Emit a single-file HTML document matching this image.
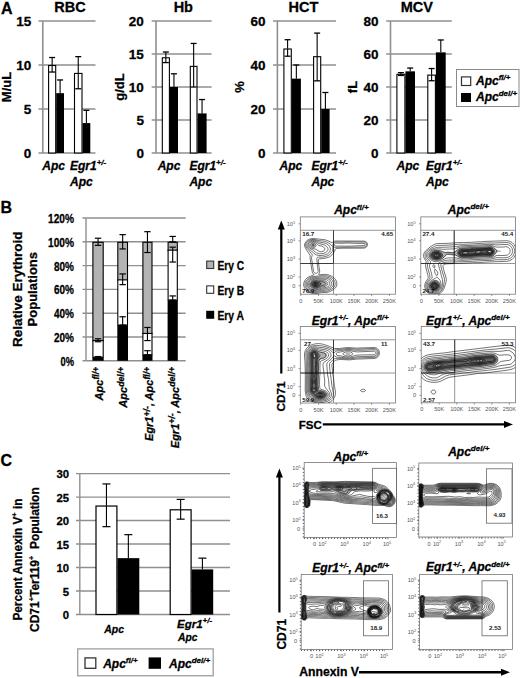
<!DOCTYPE html>
<html><head><meta charset="utf-8"><style>
html,body{margin:0;padding:0;background:#fff;}
body{width:520px;height:678px;overflow:hidden;}
svg{display:block;font-family:"Liberation Sans",sans-serif;}
text[font-weight="bold"]{stroke:#000;stroke-width:0.28px;stroke-linejoin:round;}
</style></head><body>
<svg width="520" height="678" viewBox="0 0 520 678">
<rect x="0" y="0" width="520" height="678" fill="#fff"/>
<text x="1" y="13.6" font-size="16" font-weight="bold">A</text>
<line x1="38.5" y1="153" x2="95.5" y2="153" stroke="#8f8f8f" stroke-width="1.6" />
<text x="31.3" y="158" font-size="13.5" font-weight="bold" font-style="normal" text-anchor="end" fill="#000" >0</text>
<line x1="38.5" y1="109" x2="95.5" y2="109" stroke="#8f8f8f" stroke-width="1.6" />
<text x="31.3" y="114" font-size="13.5" font-weight="bold" font-style="normal" text-anchor="end" fill="#000" >5</text>
<line x1="38.5" y1="65" x2="95.5" y2="65" stroke="#8f8f8f" stroke-width="1.6" />
<text x="31.3" y="70" font-size="13.5" font-weight="bold" font-style="normal" text-anchor="end" fill="#000" >10</text>
<line x1="38.5" y1="21" x2="95.5" y2="21" stroke="#8f8f8f" stroke-width="1.6" />
<text x="31.3" y="26" font-size="13.5" font-weight="bold" font-style="normal" text-anchor="end" fill="#000" >15</text>
<line x1="42.8" y1="21" x2="42.8" y2="153" stroke="#8f8f8f" stroke-width="1.6" />
<text x="69.9" y="12.2" font-size="14.5" font-weight="bold" font-style="normal" text-anchor="middle" fill="#000" >RBC</text>
<text transform="translate(11,87) rotate(-90)" x="0" y="0" font-size="13" font-weight="bold" text-anchor="middle">M/uL</text>
<rect x="48.6" y="65.5" width="7.1" height="87.5" fill="#fff" stroke="#000" stroke-width="1.1" />
<line x1="52.15" y1="57.52" x2="52.15" y2="65" stroke="#000" stroke-width="1.1" />
<line x1="49.15" y1="57.52" x2="55.15" y2="57.52" stroke="#000" stroke-width="1.3" />
<line x1="52.15" y1="65" x2="52.15" y2="72.04" stroke="#000" stroke-width="1.1" />
<line x1="49.15" y1="72.04" x2="55.15" y2="72.04" stroke="#000" stroke-width="1.3" />
<rect x="56.2" y="93.16" width="7.8" height="59.84" fill="#000" />
<line x1="60.1" y1="79.96" x2="60.1" y2="93.16" stroke="#000" stroke-width="1.1" />
<line x1="57.1" y1="79.96" x2="63.1" y2="79.96" stroke="#000" stroke-width="1.3" />
<rect x="74.5" y="73.42" width="7.5" height="79.58" fill="#fff" stroke="#000" stroke-width="1.1" />
<line x1="78.25" y1="56.64" x2="78.25" y2="72.92" stroke="#000" stroke-width="1.1" />
<line x1="75.25" y1="56.64" x2="81.25" y2="56.64" stroke="#000" stroke-width="1.3" />
<line x1="78.25" y1="72.92" x2="78.25" y2="88.76" stroke="#000" stroke-width="1.1" />
<line x1="75.25" y1="88.76" x2="81.25" y2="88.76" stroke="#000" stroke-width="1.3" />
<rect x="82.5" y="123.08" width="7.8" height="29.92" fill="#000" />
<line x1="86.4" y1="110.32" x2="86.4" y2="123.08" stroke="#000" stroke-width="1.1" />
<line x1="83.4" y1="110.32" x2="89.4" y2="110.32" stroke="#000" stroke-width="1.3" />
<text x="42.3" y="170" font-size="12" font-weight="bold" font-style="italic" text-anchor="start" fill="#000" >Apc</text>
<text x="70" y="170" font-size="12" font-weight="bold" font-style="italic">Egr1<tspan font-size="8" dy="-5.5">+/-</tspan></text>
<text x="70" y="185.6" font-size="12" font-weight="bold" font-style="italic" text-anchor="start" fill="#000" >Apc</text>
<line x1="151.7" y1="153" x2="211.6" y2="153" stroke="#8f8f8f" stroke-width="1.6" />
<text x="143.9" y="158" font-size="13.5" font-weight="bold" font-style="normal" text-anchor="end" fill="#000" >0</text>
<line x1="151.7" y1="120" x2="211.6" y2="120" stroke="#8f8f8f" stroke-width="1.6" />
<text x="143.9" y="125" font-size="13.5" font-weight="bold" font-style="normal" text-anchor="end" fill="#000" >5</text>
<line x1="151.7" y1="87" x2="211.6" y2="87" stroke="#8f8f8f" stroke-width="1.6" />
<text x="143.9" y="92" font-size="13.5" font-weight="bold" font-style="normal" text-anchor="end" fill="#000" >10</text>
<line x1="151.7" y1="54" x2="211.6" y2="54" stroke="#8f8f8f" stroke-width="1.6" />
<text x="143.9" y="59" font-size="13.5" font-weight="bold" font-style="normal" text-anchor="end" fill="#000" >15</text>
<line x1="151.7" y1="21" x2="211.6" y2="21" stroke="#8f8f8f" stroke-width="1.6" />
<text x="143.9" y="26" font-size="13.5" font-weight="bold" font-style="normal" text-anchor="end" fill="#000" >20</text>
<line x1="156" y1="21" x2="156" y2="153" stroke="#8f8f8f" stroke-width="1.6" />
<text x="183.3" y="12.2" font-size="14.5" font-weight="bold" font-style="normal" text-anchor="middle" fill="#000" >Hb</text>
<text transform="translate(123.5,87) rotate(-90)" x="0" y="0" font-size="13" font-weight="bold" text-anchor="middle">g/dL</text>
<rect x="162.3" y="57.8" width="7.1" height="95.2" fill="#fff" stroke="#000" stroke-width="1.1" />
<line x1="165.85" y1="52.02" x2="165.85" y2="57.3" stroke="#000" stroke-width="1.1" />
<line x1="162.85" y1="52.02" x2="168.85" y2="52.02" stroke="#000" stroke-width="1.3" />
<line x1="165.85" y1="57.3" x2="165.85" y2="62.58" stroke="#000" stroke-width="1.1" />
<line x1="162.85" y1="62.58" x2="168.85" y2="62.58" stroke="#000" stroke-width="1.3" />
<rect x="169.9" y="87" width="8.1" height="66" fill="#000" />
<line x1="173.95" y1="73.8" x2="173.95" y2="87" stroke="#000" stroke-width="1.1" />
<line x1="170.95" y1="73.8" x2="176.95" y2="73.8" stroke="#000" stroke-width="1.3" />
<rect x="190.3" y="66.38" width="6.7" height="86.62" fill="#fff" stroke="#000" stroke-width="1.1" />
<line x1="193.65" y1="43.44" x2="193.65" y2="65.88" stroke="#000" stroke-width="1.1" />
<line x1="190.65" y1="43.44" x2="196.65" y2="43.44" stroke="#000" stroke-width="1.3" />
<line x1="193.65" y1="65.88" x2="193.65" y2="87" stroke="#000" stroke-width="1.1" />
<line x1="190.65" y1="87" x2="196.65" y2="87" stroke="#000" stroke-width="1.3" />
<rect x="197.5" y="113.4" width="9.1" height="39.6" fill="#000" />
<line x1="202.05" y1="99.54" x2="202.05" y2="113.4" stroke="#000" stroke-width="1.1" />
<line x1="199.05" y1="99.54" x2="205.05" y2="99.54" stroke="#000" stroke-width="1.3" />
<text x="157.7" y="170" font-size="12" font-weight="bold" font-style="italic" text-anchor="start" fill="#000" >Apc</text>
<text x="189.4" y="170" font-size="12" font-weight="bold" font-style="italic">Egr1<tspan font-size="8" dy="-5.5">+/-</tspan></text>
<text x="189.4" y="185.6" font-size="12" font-weight="bold" font-style="italic" text-anchor="start" fill="#000" >Apc</text>
<line x1="273" y1="153" x2="336" y2="153" stroke="#8f8f8f" stroke-width="1.6" />
<text x="265.6" y="158" font-size="13.5" font-weight="bold" font-style="normal" text-anchor="end" fill="#000" >0</text>
<line x1="273" y1="109" x2="336" y2="109" stroke="#8f8f8f" stroke-width="1.6" />
<text x="265.6" y="114" font-size="13.5" font-weight="bold" font-style="normal" text-anchor="end" fill="#000" >20</text>
<line x1="273" y1="65" x2="336" y2="65" stroke="#8f8f8f" stroke-width="1.6" />
<text x="265.6" y="70" font-size="13.5" font-weight="bold" font-style="normal" text-anchor="end" fill="#000" >40</text>
<line x1="273" y1="21" x2="336" y2="21" stroke="#8f8f8f" stroke-width="1.6" />
<text x="265.6" y="26" font-size="13.5" font-weight="bold" font-style="normal" text-anchor="end" fill="#000" >60</text>
<line x1="277.4" y1="21" x2="277.4" y2="153" stroke="#8f8f8f" stroke-width="1.6" />
<text x="303.5" y="12.2" font-size="14.5" font-weight="bold" font-style="normal" text-anchor="middle" fill="#000" >HCT</text>
<text transform="translate(243.5,87) rotate(-90)" x="0" y="0" font-size="13" font-weight="bold" text-anchor="middle">%</text>
<rect x="283.9" y="49" width="7.4" height="104" fill="#fff" stroke="#000" stroke-width="1.1" />
<line x1="287.6" y1="39.7" x2="287.6" y2="48.5" stroke="#000" stroke-width="1.1" />
<line x1="284.6" y1="39.7" x2="290.6" y2="39.7" stroke="#000" stroke-width="1.3" />
<line x1="287.6" y1="48.5" x2="287.6" y2="56.2" stroke="#000" stroke-width="1.1" />
<line x1="284.6" y1="56.2" x2="290.6" y2="56.2" stroke="#000" stroke-width="1.3" />
<rect x="291.8" y="78.64" width="9.1" height="74.36" fill="#000" />
<line x1="296.35" y1="65" x2="296.35" y2="78.64" stroke="#000" stroke-width="1.1" />
<line x1="293.35" y1="65" x2="299.35" y2="65" stroke="#000" stroke-width="1.3" />
<rect x="313.6" y="56.7" width="7.1" height="96.3" fill="#fff" stroke="#000" stroke-width="1.1" />
<line x1="317.15" y1="33.1" x2="317.15" y2="56.2" stroke="#000" stroke-width="1.1" />
<line x1="314.15" y1="33.1" x2="320.15" y2="33.1" stroke="#000" stroke-width="1.3" />
<line x1="317.15" y1="56.2" x2="317.15" y2="80.84" stroke="#000" stroke-width="1.1" />
<line x1="314.15" y1="80.84" x2="320.15" y2="80.84" stroke="#000" stroke-width="1.3" />
<rect x="321.2" y="109" width="8.4" height="44" fill="#000" />
<line x1="325.4" y1="92.5" x2="325.4" y2="109" stroke="#000" stroke-width="1.1" />
<line x1="322.4" y1="92.5" x2="328.4" y2="92.5" stroke="#000" stroke-width="1.3" />
<text x="279.6" y="170" font-size="12" font-weight="bold" font-style="italic" text-anchor="start" fill="#000" >Apc</text>
<text x="311.5" y="170" font-size="12" font-weight="bold" font-style="italic">Egr1<tspan font-size="8" dy="-5.5">+/-</tspan></text>
<text x="311.5" y="185.6" font-size="12" font-weight="bold" font-style="italic" text-anchor="start" fill="#000" >Apc</text>
<line x1="386.2" y1="153" x2="451.8" y2="153" stroke="#8f8f8f" stroke-width="1.6" />
<text x="378.6" y="158" font-size="13.5" font-weight="bold" font-style="normal" text-anchor="end" fill="#000" >0</text>
<line x1="386.2" y1="120" x2="451.8" y2="120" stroke="#8f8f8f" stroke-width="1.6" />
<text x="378.6" y="125" font-size="13.5" font-weight="bold" font-style="normal" text-anchor="end" fill="#000" >20</text>
<line x1="386.2" y1="87" x2="451.8" y2="87" stroke="#8f8f8f" stroke-width="1.6" />
<text x="378.6" y="92" font-size="13.5" font-weight="bold" font-style="normal" text-anchor="end" fill="#000" >40</text>
<line x1="386.2" y1="54" x2="451.8" y2="54" stroke="#8f8f8f" stroke-width="1.6" />
<text x="378.6" y="59" font-size="13.5" font-weight="bold" font-style="normal" text-anchor="end" fill="#000" >60</text>
<line x1="386.2" y1="21" x2="451.8" y2="21" stroke="#8f8f8f" stroke-width="1.6" />
<text x="378.6" y="26" font-size="13.5" font-weight="bold" font-style="normal" text-anchor="end" fill="#000" >80</text>
<line x1="390.5" y1="21" x2="390.5" y2="153" stroke="#8f8f8f" stroke-width="1.6" />
<text x="416.9" y="12.2" font-size="14.5" font-weight="bold" font-style="normal" text-anchor="middle" fill="#000" >MCV</text>
<text transform="translate(357,87) rotate(-90)" x="0" y="0" font-size="13" font-weight="bold" text-anchor="middle">fL</text>
<rect x="396.9" y="74.3" width="8" height="78.7" fill="#fff" stroke="#000" stroke-width="1.1" />
<line x1="400.9" y1="72.64" x2="400.9" y2="73.8" stroke="#000" stroke-width="1.1" />
<line x1="397.9" y1="72.64" x2="403.9" y2="72.64" stroke="#000" stroke-width="1.3" />
<line x1="400.9" y1="73.8" x2="400.9" y2="75.45" stroke="#000" stroke-width="1.1" />
<line x1="397.9" y1="75.45" x2="403.9" y2="75.45" stroke="#000" stroke-width="1.3" />
<rect x="405.4" y="71.33" width="9.6" height="81.67" fill="#000" />
<line x1="410.2" y1="68.03" x2="410.2" y2="71.33" stroke="#000" stroke-width="1.1" />
<line x1="407.2" y1="68.03" x2="413.2" y2="68.03" stroke="#000" stroke-width="1.3" />
<rect x="427.8" y="75.12" width="7.6" height="77.88" fill="#fff" stroke="#000" stroke-width="1.1" />
<line x1="431.6" y1="68.52" x2="431.6" y2="74.62" stroke="#000" stroke-width="1.1" />
<line x1="428.6" y1="68.52" x2="434.6" y2="68.52" stroke="#000" stroke-width="1.3" />
<line x1="431.6" y1="74.62" x2="431.6" y2="80.73" stroke="#000" stroke-width="1.1" />
<line x1="428.6" y1="80.73" x2="434.6" y2="80.73" stroke="#000" stroke-width="1.3" />
<rect x="435.9" y="52.35" width="9.8" height="100.65" fill="#000" />
<line x1="440.8" y1="39.98" x2="440.8" y2="52.35" stroke="#000" stroke-width="1.1" />
<line x1="437.8" y1="39.98" x2="443.8" y2="39.98" stroke="#000" stroke-width="1.3" />
<text x="396.5" y="170" font-size="12" font-weight="bold" font-style="italic" text-anchor="start" fill="#000" >Apc</text>
<text x="426" y="170" font-size="12" font-weight="bold" font-style="italic">Egr1<tspan font-size="8" dy="-5.5">+/-</tspan></text>
<text x="426" y="185.6" font-size="12" font-weight="bold" font-style="italic" text-anchor="start" fill="#000" >Apc</text>
<rect x="456.5" y="69.5" width="62.5" height="37" fill="#fff" stroke="#8a8a8a" stroke-width="1" />
<rect x="461.5" y="76.9" width="9.2" height="8.6" fill="#fff" stroke="#333" stroke-width="1.2" />
<rect x="461" y="93" width="10" height="9" fill="#000" />
<text x="476" y="85" font-size="12" font-weight="bold" font-style="italic">Apc<tspan font-size="8" dy="-5">fl/+</tspan></text>
<text x="476" y="100.6" font-size="12" font-weight="bold" font-style="italic">Apc<tspan font-size="8" dy="-5">del/+</tspan></text>
<text x="0.5" y="213.2" font-size="16" font-weight="bold">B</text>
<line x1="82.5" y1="360.8" x2="185.7" y2="360.8" stroke="#8f8f8f" stroke-width="1.4" />
<text x="74" y="365.7" font-size="12.2" font-weight="bold" font-style="normal" text-anchor="end" fill="#000" textLength="13.5" lengthAdjust="spacingAndGlyphs" >0%</text>
<line x1="82.5" y1="337" x2="185.7" y2="337" stroke="#8f8f8f" stroke-width="1.4" />
<text x="74" y="341.9" font-size="12.2" font-weight="bold" font-style="normal" text-anchor="end" fill="#000" textLength="20" lengthAdjust="spacingAndGlyphs" >20%</text>
<line x1="82.5" y1="313.2" x2="185.7" y2="313.2" stroke="#8f8f8f" stroke-width="1.4" />
<text x="74" y="318.1" font-size="12.2" font-weight="bold" font-style="normal" text-anchor="end" fill="#000" textLength="20" lengthAdjust="spacingAndGlyphs" >40%</text>
<line x1="82.5" y1="289.4" x2="185.7" y2="289.4" stroke="#8f8f8f" stroke-width="1.4" />
<text x="74" y="294.3" font-size="12.2" font-weight="bold" font-style="normal" text-anchor="end" fill="#000" textLength="20" lengthAdjust="spacingAndGlyphs" >60%</text>
<line x1="82.5" y1="265.6" x2="185.7" y2="265.6" stroke="#8f8f8f" stroke-width="1.4" />
<text x="74" y="270.5" font-size="12.2" font-weight="bold" font-style="normal" text-anchor="end" fill="#000" textLength="20" lengthAdjust="spacingAndGlyphs" >80%</text>
<line x1="82.5" y1="241.8" x2="185.7" y2="241.8" stroke="#8f8f8f" stroke-width="1.4" />
<text x="74" y="246.7" font-size="12.2" font-weight="bold" font-style="normal" text-anchor="end" fill="#000" textLength="26" lengthAdjust="spacingAndGlyphs" >100%</text>
<line x1="82.5" y1="218" x2="185.7" y2="218" stroke="#8f8f8f" stroke-width="1.4" />
<text x="74" y="222.9" font-size="12.2" font-weight="bold" font-style="normal" text-anchor="end" fill="#000" textLength="26" lengthAdjust="spacingAndGlyphs" >120%</text>
<line x1="86" y1="218" x2="86" y2="360.8" stroke="#8f8f8f" stroke-width="1.4" />
<rect x="92.9" y="242.3" width="10.3" height="98.77" fill="#b3b3b3" stroke="#000" stroke-width="1.1" />
<rect x="92.9" y="340.57" width="10.3" height="16.66" fill="#fff" stroke="#000" stroke-width="1.1" />
<rect x="92.4" y="357.23" width="11.3" height="3.57" fill="#000" />
<line x1="98.05" y1="238.23" x2="98.05" y2="245.37" stroke="#000" stroke-width="1.1" />
<line x1="94.85" y1="238.23" x2="101.25" y2="238.23" stroke="#000" stroke-width="1.2" />
<line x1="94.85" y1="245.37" x2="101.25" y2="245.37" stroke="#000" stroke-width="1.2" />
<line x1="98.05" y1="338.79" x2="98.05" y2="341.76" stroke="#000" stroke-width="1.1" />
<line x1="94.85" y1="338.79" x2="101.25" y2="338.79" stroke="#000" stroke-width="1.2" />
<line x1="94.85" y1="341.76" x2="101.25" y2="341.76" stroke="#000" stroke-width="1.2" />
<line x1="98.05" y1="356.52" x2="98.05" y2="357.94" stroke="#000" stroke-width="1.1" />
<line x1="94.85" y1="356.52" x2="101.25" y2="356.52" stroke="#000" stroke-width="1.2" />
<line x1="94.85" y1="357.94" x2="101.25" y2="357.94" stroke="#000" stroke-width="1.2" />
<rect x="117.8" y="242.3" width="9.7" height="38.08" fill="#b3b3b3" stroke="#000" stroke-width="1.1" />
<rect x="117.8" y="279.88" width="9.7" height="45.22" fill="#fff" stroke="#000" stroke-width="1.1" />
<rect x="117.3" y="325.1" width="10.7" height="35.7" fill="#000" />
<line x1="122.65" y1="234.66" x2="122.65" y2="248.94" stroke="#000" stroke-width="1.1" />
<line x1="119.45" y1="234.66" x2="125.85" y2="234.66" stroke="#000" stroke-width="1.2" />
<line x1="119.45" y1="248.94" x2="125.85" y2="248.94" stroke="#000" stroke-width="1.2" />
<line x1="122.65" y1="273.93" x2="122.65" y2="284.64" stroke="#000" stroke-width="1.1" />
<line x1="119.45" y1="273.93" x2="125.85" y2="273.93" stroke="#000" stroke-width="1.2" />
<line x1="119.45" y1="284.64" x2="125.85" y2="284.64" stroke="#000" stroke-width="1.2" />
<line x1="122.65" y1="316.77" x2="122.65" y2="325.1" stroke="#000" stroke-width="1.1" />
<line x1="119.45" y1="316.77" x2="125.85" y2="316.77" stroke="#000" stroke-width="1.2" />
<line x1="119.45" y1="325.1" x2="125.85" y2="325.1" stroke="#000" stroke-width="1.2" />
<rect x="142.9" y="242.3" width="9.1" height="91.63" fill="#b3b3b3" stroke="#000" stroke-width="1.1" />
<rect x="142.9" y="333.43" width="9.1" height="21.42" fill="#fff" stroke="#000" stroke-width="1.1" />
<rect x="142.4" y="354.85" width="10.1" height="5.95" fill="#000" />
<line x1="147.45" y1="231.69" x2="147.45" y2="252.51" stroke="#000" stroke-width="1.1" />
<line x1="144.25" y1="231.69" x2="150.65" y2="231.69" stroke="#000" stroke-width="1.2" />
<line x1="144.25" y1="252.51" x2="150.65" y2="252.51" stroke="#000" stroke-width="1.2" />
<line x1="147.45" y1="327.48" x2="147.45" y2="340.57" stroke="#000" stroke-width="1.1" />
<line x1="144.25" y1="327.48" x2="150.65" y2="327.48" stroke="#000" stroke-width="1.2" />
<line x1="144.25" y1="340.57" x2="150.65" y2="340.57" stroke="#000" stroke-width="1.2" />
<line x1="147.45" y1="350.69" x2="147.45" y2="354.85" stroke="#000" stroke-width="1.1" />
<line x1="144.25" y1="350.69" x2="150.65" y2="350.69" stroke="#000" stroke-width="1.2" />
<line x1="144.25" y1="354.85" x2="150.65" y2="354.85" stroke="#000" stroke-width="1.2" />
<rect x="168.1" y="242.3" width="9.2" height="8.33" fill="#b3b3b3" stroke="#000" stroke-width="1.1" />
<rect x="168.1" y="250.13" width="9.2" height="49.98" fill="#fff" stroke="#000" stroke-width="1.1" />
<rect x="167.6" y="300.11" width="10.2" height="60.69" fill="#000" />
<line x1="172.7" y1="236.44" x2="172.7" y2="241.8" stroke="#000" stroke-width="1.1" />
<line x1="169.5" y1="236.44" x2="175.9" y2="236.44" stroke="#000" stroke-width="1.2" />
<line x1="169.5" y1="241.8" x2="175.9" y2="241.8" stroke="#000" stroke-width="1.2" />
<line x1="172.7" y1="247.16" x2="172.7" y2="262.03" stroke="#000" stroke-width="1.1" />
<line x1="169.5" y1="247.16" x2="175.9" y2="247.16" stroke="#000" stroke-width="1.2" />
<line x1="169.5" y1="262.03" x2="175.9" y2="262.03" stroke="#000" stroke-width="1.2" />
<line x1="172.7" y1="295.94" x2="172.7" y2="300.11" stroke="#000" stroke-width="1.1" />
<line x1="169.5" y1="295.94" x2="175.9" y2="295.94" stroke="#000" stroke-width="1.2" />
<line x1="169.5" y1="300.11" x2="175.9" y2="300.11" stroke="#000" stroke-width="1.2" />
<rect x="206.7" y="261.1" width="7" height="7.4" fill="#b3b3b3" stroke="#333" stroke-width="1.1" />
<rect x="206.7" y="285.9" width="7" height="7.4" fill="#fff" stroke="#333" stroke-width="1.1" />
<rect x="206.2" y="310.8" width="8" height="8" fill="#000" />
<text x="217.4" y="269.5" font-size="12" font-weight="bold" font-style="normal" text-anchor="start" fill="#000" textLength="26.6" lengthAdjust="spacingAndGlyphs" >Ery C</text>
<text x="217.4" y="294.6" font-size="12" font-weight="bold" font-style="normal" text-anchor="start" fill="#000" textLength="26.6" lengthAdjust="spacingAndGlyphs" >Ery B</text>
<text x="217.4" y="319.7" font-size="12" font-weight="bold" font-style="normal" text-anchor="start" fill="#000" textLength="26.6" lengthAdjust="spacingAndGlyphs" >Ery A</text>
<text transform="translate(21.5,289.2) rotate(-90)" font-size="13" font-weight="bold" text-anchor="middle" textLength="115.6" lengthAdjust="spacingAndGlyphs">Relative Erythroid</text>
<text transform="translate(37.2,289.2) rotate(-90)" font-size="13" font-weight="bold" text-anchor="middle" textLength="74.4" lengthAdjust="spacingAndGlyphs">Populations</text>
<text transform="translate(103,366.8) rotate(-90)" font-size="11" font-weight="bold" font-style="italic" text-anchor="end">Apc<tspan font-size="8.7" dy="-3.6">fl/+</tspan></text>
<text transform="translate(127.3,366.8) rotate(-90)" font-size="11" font-weight="bold" font-style="italic" text-anchor="end">Apc<tspan font-size="8.7" dy="-3.6">del/+</tspan></text>
<text transform="translate(153.2,366.8) rotate(-90)" font-size="11" font-weight="bold" font-style="italic" text-anchor="end">Egr1<tspan font-size="8.7" dy="-3.6">+/-</tspan><tspan dy="3.6">, Apc</tspan><tspan font-size="8.7" dy="-3.6">fl/+</tspan></text>
<text transform="translate(179,366.8) rotate(-90)" font-size="11" font-weight="bold" font-style="italic" text-anchor="end">Egr1<tspan font-size="8.7" dy="-3.6">+/-</tspan><tspan dy="3.6">, Apc</tspan><tspan font-size="8.7" dy="-3.6">del/+</tspan></text>
<text x="0.5" y="466.3" font-size="16" font-weight="bold">C</text>
<line x1="76" y1="614.5" x2="230" y2="614.5" stroke="#8f8f8f" stroke-width="1.4" />
<text x="69" y="619" font-size="11.5" font-weight="bold" font-style="normal" text-anchor="end" fill="#000" textLength="6.3" lengthAdjust="spacingAndGlyphs" >0</text>
<line x1="76" y1="591.02" x2="230" y2="591.02" stroke="#8f8f8f" stroke-width="1.4" />
<text x="69" y="595.52" font-size="11.5" font-weight="bold" font-style="normal" text-anchor="end" fill="#000" textLength="6.3" lengthAdjust="spacingAndGlyphs" >5</text>
<line x1="76" y1="567.53" x2="230" y2="567.53" stroke="#8f8f8f" stroke-width="1.4" />
<text x="69" y="572.03" font-size="11.5" font-weight="bold" font-style="normal" text-anchor="end" fill="#000" textLength="12.6" lengthAdjust="spacingAndGlyphs" >10</text>
<line x1="76" y1="544.05" x2="230" y2="544.05" stroke="#8f8f8f" stroke-width="1.4" />
<text x="69" y="548.55" font-size="11.5" font-weight="bold" font-style="normal" text-anchor="end" fill="#000" textLength="12.6" lengthAdjust="spacingAndGlyphs" >15</text>
<line x1="76" y1="520.57" x2="230" y2="520.57" stroke="#8f8f8f" stroke-width="1.4" />
<text x="69" y="525.07" font-size="11.5" font-weight="bold" font-style="normal" text-anchor="end" fill="#000" textLength="12.6" lengthAdjust="spacingAndGlyphs" >20</text>
<line x1="76" y1="497.08" x2="230" y2="497.08" stroke="#8f8f8f" stroke-width="1.4" />
<text x="69" y="501.58" font-size="11.5" font-weight="bold" font-style="normal" text-anchor="end" fill="#000" textLength="12.6" lengthAdjust="spacingAndGlyphs" >25</text>
<line x1="76" y1="473.6" x2="230" y2="473.6" stroke="#8f8f8f" stroke-width="1.4" />
<text x="69" y="478.1" font-size="11.5" font-weight="bold" font-style="normal" text-anchor="end" fill="#000" textLength="12.6" lengthAdjust="spacingAndGlyphs" >30</text>
<line x1="79.8" y1="473.6" x2="79.8" y2="614.5" stroke="#8f8f8f" stroke-width="1.4" />
<rect x="96" y="506.04" width="20.9" height="108.46" fill="#fff" stroke="#000" stroke-width="1.2" />
<line x1="106.45" y1="483.93" x2="106.45" y2="505.54" stroke="#000" stroke-width="1.1" />
<line x1="102.45" y1="483.93" x2="110.45" y2="483.93" stroke="#000" stroke-width="1.2" />
<line x1="106.45" y1="505.54" x2="106.45" y2="526.67" stroke="#000" stroke-width="1.1" />
<line x1="102.45" y1="526.67" x2="110.45" y2="526.67" stroke="#000" stroke-width="1.2" />
<rect x="117.4" y="558.14" width="21.9" height="56.36" fill="#000" />
<line x1="128.35" y1="534.66" x2="128.35" y2="558.14" stroke="#000" stroke-width="1.1" />
<line x1="124.35" y1="534.66" x2="132.35" y2="534.66" stroke="#000" stroke-width="1.2" />
<rect x="170.2" y="509.79" width="20.9" height="104.71" fill="#fff" stroke="#000" stroke-width="1.2" />
<line x1="180.65" y1="499.43" x2="180.65" y2="509.29" stroke="#000" stroke-width="1.1" />
<line x1="176.65" y1="499.43" x2="184.65" y2="499.43" stroke="#000" stroke-width="1.2" />
<line x1="180.65" y1="509.29" x2="180.65" y2="519.16" stroke="#000" stroke-width="1.1" />
<line x1="176.65" y1="519.16" x2="184.65" y2="519.16" stroke="#000" stroke-width="1.2" />
<rect x="191.6" y="569.41" width="21.6" height="45.09" fill="#000" />
<line x1="202.4" y1="558.14" x2="202.4" y2="569.41" stroke="#000" stroke-width="1.1" />
<line x1="198.4" y1="558.14" x2="206.4" y2="558.14" stroke="#000" stroke-width="1.2" />
<text x="104.3" y="632.5" font-size="11.5" font-weight="bold" font-style="italic" text-anchor="start" fill="#000" textLength="19.8" lengthAdjust="spacingAndGlyphs" >Apc</text>
<text x="177" y="627.8" font-size="11.5" font-weight="bold" font-style="italic">Egr1<tspan font-size="8" dy="-4.5">+/-</tspan></text>
<text x="178" y="641" font-size="11.5" font-weight="bold" font-style="italic" text-anchor="start" fill="#000" textLength="19.5" lengthAdjust="spacingAndGlyphs" >Apc</text>
<text transform="translate(22.3,559.6) rotate(-90)" font-size="13" font-weight="bold" text-anchor="middle" textLength="122" lengthAdjust="spacingAndGlyphs">Percent Annexin V<tspan font-size="8" dy="-5">+</tspan><tspan dy="5"> in</tspan></text>
<text transform="translate(38.6,559.6) rotate(-90)" font-size="13" font-weight="bold" text-anchor="middle" textLength="144.7" lengthAdjust="spacingAndGlyphs">CD71<tspan font-size="8" dy="-5">+</tspan><tspan dy="5">Ter119</tspan><tspan font-size="8" dy="-5">+</tspan><tspan dy="5">&#160; Population</tspan></text>
<rect x="77.7" y="648.9" width="135.5" height="26.8" fill="#fff" stroke="#a5a5a5" stroke-width="1.4" />
<rect x="85" y="657.9" width="10.8" height="10.4" fill="#fff" stroke="#333" stroke-width="1.3" />
<rect x="148.6" y="657.4" width="12.4" height="11.4" fill="#000" />
<text x="103.2" y="668.3" font-size="12" font-weight="bold" font-style="italic">Apc<tspan font-size="8" dy="-5">fl/+</tspan></text>
<text x="169.0" y="668.3" font-size="12" font-weight="bold" font-style="italic">Apc<tspan font-size="8" dy="-5">del/+</tspan></text>
<clipPath id="b1"><rect x="300.3" y="216.9" width="95.1" height="77.3"/></clipPath>
<rect x="300.3" y="216.9" width="95.1" height="77.3" fill="none" stroke="#777" stroke-width="0.8" />
<line x1="300.3" y1="230.3" x2="395.4" y2="230.3" stroke="#8a8a8a" stroke-width="0.9" />
<line x1="300.3" y1="263.5" x2="395.4" y2="263.5" stroke="#8a8a8a" stroke-width="0.9" />
<line x1="333.5" y1="230.3" x2="333.5" y2="294.2" stroke="#8a8a8a" stroke-width="0.9" />
<line x1="300.3" y1="263.5" x2="333.5" y2="263.5" stroke="#333" stroke-width="0.9" />
<line x1="333.5" y1="230.3" x2="333.5" y2="263.5" stroke="#333" stroke-width="0.9" />
<text x="295.1" y="225.8" font-size="5.6" text-anchor="end" fill="#555">10<tspan font-size="3.92" dy="-2.3">5</tspan></text>
<line x1="298.5" y1="223.8" x2="300.3" y2="223.8" stroke="#555" stroke-width="0.6" />
<text x="295.1" y="242.8" font-size="5.6" text-anchor="end" fill="#555">10<tspan font-size="3.92" dy="-2.3">4</tspan></text>
<line x1="298.5" y1="240.8" x2="300.3" y2="240.8" stroke="#555" stroke-width="0.6" />
<text x="295.1" y="261" font-size="5.6" text-anchor="end" fill="#555">10<tspan font-size="3.92" dy="-2.3">3</tspan></text>
<line x1="298.5" y1="259" x2="300.3" y2="259" stroke="#555" stroke-width="0.6" />
<text x="295.1" y="279" font-size="5.6" text-anchor="end" fill="#555">10<tspan font-size="3.92" dy="-2.3">2</tspan></text>
<line x1="298.5" y1="277" x2="300.3" y2="277" stroke="#555" stroke-width="0.6" />
<text x="295.3" y="287.7" font-size="5.6" text-anchor="end" fill="#555">0</text>
<line x1="298.5" y1="285.7" x2="300.3" y2="285.7" stroke="#555" stroke-width="0.6" />
<text x="300.8" y="302.7" font-size="5.6" text-anchor="middle" fill="#555">0</text>
<line x1="300.8" y1="294.2" x2="300.8" y2="296" stroke="#555" stroke-width="0.6" />
<text x="318.52" y="302.7" font-size="5.6" text-anchor="middle" fill="#555">50K</text>
<line x1="318.52" y1="294.2" x2="318.52" y2="296" stroke="#555" stroke-width="0.6" />
<text x="336.24" y="302.7" font-size="5.6" text-anchor="middle" fill="#555">100K</text>
<line x1="336.24" y1="294.2" x2="336.24" y2="296" stroke="#555" stroke-width="0.6" />
<text x="353.96" y="302.7" font-size="5.6" text-anchor="middle" fill="#555">150K</text>
<line x1="353.96" y1="294.2" x2="353.96" y2="296" stroke="#555" stroke-width="0.6" />
<text x="371.68" y="302.7" font-size="5.6" text-anchor="middle" fill="#555">200K</text>
<line x1="371.68" y1="294.2" x2="371.68" y2="296" stroke="#555" stroke-width="0.6" />
<text x="389.4" y="302.7" font-size="5.6" text-anchor="middle" fill="#555">250K</text>
<line x1="389.4" y1="294.2" x2="389.4" y2="296" stroke="#555" stroke-width="0.6" />
<clipPath id="b2"><rect x="420.8" y="216.9" width="94.6" height="77.3"/></clipPath>
<rect x="420.8" y="216.9" width="94.6" height="77.3" fill="none" stroke="#777" stroke-width="0.8" />
<line x1="420.8" y1="230.3" x2="515.4" y2="230.3" stroke="#8a8a8a" stroke-width="0.9" />
<line x1="420.8" y1="263.5" x2="515.4" y2="263.5" stroke="#8a8a8a" stroke-width="0.9" />
<line x1="454.2" y1="230.3" x2="454.2" y2="294.2" stroke="#8a8a8a" stroke-width="0.9" />
<line x1="420.8" y1="263.5" x2="454.2" y2="263.5" stroke="#333" stroke-width="0.9" />
<line x1="454.2" y1="230.3" x2="454.2" y2="263.5" stroke="#333" stroke-width="0.9" />
<text x="415.6" y="225.8" font-size="5.6" text-anchor="end" fill="#555">10<tspan font-size="3.92" dy="-2.3">5</tspan></text>
<line x1="419" y1="223.8" x2="420.8" y2="223.8" stroke="#555" stroke-width="0.6" />
<text x="415.6" y="242.8" font-size="5.6" text-anchor="end" fill="#555">10<tspan font-size="3.92" dy="-2.3">4</tspan></text>
<line x1="419" y1="240.8" x2="420.8" y2="240.8" stroke="#555" stroke-width="0.6" />
<text x="415.6" y="261" font-size="5.6" text-anchor="end" fill="#555">10<tspan font-size="3.92" dy="-2.3">3</tspan></text>
<line x1="419" y1="259" x2="420.8" y2="259" stroke="#555" stroke-width="0.6" />
<text x="415.6" y="279" font-size="5.6" text-anchor="end" fill="#555">10<tspan font-size="3.92" dy="-2.3">2</tspan></text>
<line x1="419" y1="277" x2="420.8" y2="277" stroke="#555" stroke-width="0.6" />
<text x="415.8" y="287.7" font-size="5.6" text-anchor="end" fill="#555">0</text>
<line x1="419" y1="285.7" x2="420.8" y2="285.7" stroke="#555" stroke-width="0.6" />
<text x="421.3" y="302.7" font-size="5.6" text-anchor="middle" fill="#555">0</text>
<line x1="421.3" y1="294.2" x2="421.3" y2="296" stroke="#555" stroke-width="0.6" />
<text x="438.92" y="302.7" font-size="5.6" text-anchor="middle" fill="#555">50K</text>
<line x1="438.92" y1="294.2" x2="438.92" y2="296" stroke="#555" stroke-width="0.6" />
<text x="456.54" y="302.7" font-size="5.6" text-anchor="middle" fill="#555">100K</text>
<line x1="456.54" y1="294.2" x2="456.54" y2="296" stroke="#555" stroke-width="0.6" />
<text x="474.16" y="302.7" font-size="5.6" text-anchor="middle" fill="#555">150K</text>
<line x1="474.16" y1="294.2" x2="474.16" y2="296" stroke="#555" stroke-width="0.6" />
<text x="491.78" y="302.7" font-size="5.6" text-anchor="middle" fill="#555">200K</text>
<line x1="491.78" y1="294.2" x2="491.78" y2="296" stroke="#555" stroke-width="0.6" />
<text x="509.4" y="302.7" font-size="5.6" text-anchor="middle" fill="#555">250K</text>
<line x1="509.4" y1="294.2" x2="509.4" y2="296" stroke="#555" stroke-width="0.6" />
<clipPath id="b3"><rect x="300.3" y="326.5" width="95.1" height="76.5"/></clipPath>
<rect x="300.3" y="326.5" width="95.1" height="76.5" fill="none" stroke="#777" stroke-width="0.8" />
<line x1="300.3" y1="339.8" x2="395.4" y2="339.8" stroke="#8a8a8a" stroke-width="0.9" />
<line x1="300.3" y1="373" x2="395.4" y2="373" stroke="#8a8a8a" stroke-width="0.9" />
<line x1="333.5" y1="339.8" x2="333.5" y2="403" stroke="#8a8a8a" stroke-width="0.9" />
<line x1="300.3" y1="373" x2="333.5" y2="373" stroke="#333" stroke-width="0.9" />
<line x1="333.5" y1="339.8" x2="333.5" y2="373" stroke="#333" stroke-width="0.9" />
<text x="295.1" y="335.4" font-size="5.6" text-anchor="end" fill="#555">10<tspan font-size="3.92" dy="-2.3">5</tspan></text>
<line x1="298.5" y1="333.4" x2="300.3" y2="333.4" stroke="#555" stroke-width="0.6" />
<text x="295.1" y="352.4" font-size="5.6" text-anchor="end" fill="#555">10<tspan font-size="3.92" dy="-2.3">4</tspan></text>
<line x1="298.5" y1="350.4" x2="300.3" y2="350.4" stroke="#555" stroke-width="0.6" />
<text x="295.1" y="370.6" font-size="5.6" text-anchor="end" fill="#555">10<tspan font-size="3.92" dy="-2.3">3</tspan></text>
<line x1="298.5" y1="368.6" x2="300.3" y2="368.6" stroke="#555" stroke-width="0.6" />
<text x="295.1" y="388.6" font-size="5.6" text-anchor="end" fill="#555">10<tspan font-size="3.92" dy="-2.3">2</tspan></text>
<line x1="298.5" y1="386.6" x2="300.3" y2="386.6" stroke="#555" stroke-width="0.6" />
<text x="295.3" y="397.3" font-size="5.6" text-anchor="end" fill="#555">0</text>
<line x1="298.5" y1="395.3" x2="300.3" y2="395.3" stroke="#555" stroke-width="0.6" />
<text x="300.8" y="411.5" font-size="5.6" text-anchor="middle" fill="#555">0</text>
<line x1="300.8" y1="403" x2="300.8" y2="404.8" stroke="#555" stroke-width="0.6" />
<text x="318.52" y="411.5" font-size="5.6" text-anchor="middle" fill="#555">50K</text>
<line x1="318.52" y1="403" x2="318.52" y2="404.8" stroke="#555" stroke-width="0.6" />
<text x="336.24" y="411.5" font-size="5.6" text-anchor="middle" fill="#555">100K</text>
<line x1="336.24" y1="403" x2="336.24" y2="404.8" stroke="#555" stroke-width="0.6" />
<text x="353.96" y="411.5" font-size="5.6" text-anchor="middle" fill="#555">150K</text>
<line x1="353.96" y1="403" x2="353.96" y2="404.8" stroke="#555" stroke-width="0.6" />
<text x="371.68" y="411.5" font-size="5.6" text-anchor="middle" fill="#555">200K</text>
<line x1="371.68" y1="403" x2="371.68" y2="404.8" stroke="#555" stroke-width="0.6" />
<text x="389.4" y="411.5" font-size="5.6" text-anchor="middle" fill="#555">250K</text>
<line x1="389.4" y1="403" x2="389.4" y2="404.8" stroke="#555" stroke-width="0.6" />
<clipPath id="b4"><rect x="421.2" y="326.5" width="94.2" height="76.3"/></clipPath>
<rect x="421.2" y="326.5" width="94.2" height="76.3" fill="none" stroke="#777" stroke-width="0.8" />
<line x1="421.2" y1="339.6" x2="515.4" y2="339.6" stroke="#8a8a8a" stroke-width="0.9" />
<line x1="421.2" y1="373" x2="515.4" y2="373" stroke="#8a8a8a" stroke-width="0.9" />
<line x1="454.7" y1="339.6" x2="454.7" y2="402.8" stroke="#8a8a8a" stroke-width="0.9" />
<line x1="421.2" y1="373" x2="454.7" y2="373" stroke="#333" stroke-width="0.9" />
<line x1="454.7" y1="339.6" x2="454.7" y2="373" stroke="#333" stroke-width="0.9" />
<text x="416" y="335.4" font-size="5.6" text-anchor="end" fill="#555">10<tspan font-size="3.92" dy="-2.3">5</tspan></text>
<line x1="419.4" y1="333.4" x2="421.2" y2="333.4" stroke="#555" stroke-width="0.6" />
<text x="416" y="352.4" font-size="5.6" text-anchor="end" fill="#555">10<tspan font-size="3.92" dy="-2.3">4</tspan></text>
<line x1="419.4" y1="350.4" x2="421.2" y2="350.4" stroke="#555" stroke-width="0.6" />
<text x="416" y="370.6" font-size="5.6" text-anchor="end" fill="#555">10<tspan font-size="3.92" dy="-2.3">3</tspan></text>
<line x1="419.4" y1="368.6" x2="421.2" y2="368.6" stroke="#555" stroke-width="0.6" />
<text x="416" y="388.6" font-size="5.6" text-anchor="end" fill="#555">10<tspan font-size="3.92" dy="-2.3">2</tspan></text>
<line x1="419.4" y1="386.6" x2="421.2" y2="386.6" stroke="#555" stroke-width="0.6" />
<text x="416.2" y="397.3" font-size="5.6" text-anchor="end" fill="#555">0</text>
<line x1="419.4" y1="395.3" x2="421.2" y2="395.3" stroke="#555" stroke-width="0.6" />
<text x="421.7" y="411.3" font-size="5.6" text-anchor="middle" fill="#555">0</text>
<line x1="421.7" y1="402.8" x2="421.7" y2="404.6" stroke="#555" stroke-width="0.6" />
<text x="439.24" y="411.3" font-size="5.6" text-anchor="middle" fill="#555">50K</text>
<line x1="439.24" y1="402.8" x2="439.24" y2="404.6" stroke="#555" stroke-width="0.6" />
<text x="456.78" y="411.3" font-size="5.6" text-anchor="middle" fill="#555">100K</text>
<line x1="456.78" y1="402.8" x2="456.78" y2="404.6" stroke="#555" stroke-width="0.6" />
<text x="474.32" y="411.3" font-size="5.6" text-anchor="middle" fill="#555">150K</text>
<line x1="474.32" y1="402.8" x2="474.32" y2="404.6" stroke="#555" stroke-width="0.6" />
<text x="491.86" y="411.3" font-size="5.6" text-anchor="middle" fill="#555">200K</text>
<line x1="491.86" y1="402.8" x2="491.86" y2="404.6" stroke="#555" stroke-width="0.6" />
<text x="509.4" y="411.3" font-size="5.6" text-anchor="middle" fill="#555">250K</text>
<line x1="509.4" y1="402.8" x2="509.4" y2="404.6" stroke="#555" stroke-width="0.6" />
<text x="334.2" y="214.4" font-size="12" font-weight="bold" font-style="italic">Apc<tspan font-size="8" dy="-4.8">fl/+</tspan></text>
<text x="447.8" y="214.0" font-size="12" font-weight="bold" font-style="italic">Apc<tspan font-size="8" dy="-4.8">del/+</tspan></text>
<text x="311.8" y="324.7" font-size="12" font-weight="bold" font-style="italic">Egr1<tspan font-size="8" dy="-4.8">+/-</tspan><tspan dy="4.8">, Apc</tspan><tspan font-size="8" dy="-4.8">fl/+</tspan></text>
<text x="426.0" y="324.7" font-size="12" font-weight="bold" font-style="italic">Egr1<tspan font-size="8" dy="-4.8">+/-</tspan><tspan dy="4.8">, Apc</tspan><tspan font-size="8" dy="-4.8">del/+</tspan></text>
<text x="302.2" y="236.2" font-size="6.2" font-weight="bold" text-anchor="start" fill="#222" style="stroke:none">16.7</text>
<text x="393.2" y="236.2" font-size="6.2" font-weight="bold" text-anchor="end" fill="#222" style="stroke:none">4.65</text>
<text x="302.2" y="293" font-size="6.2" font-weight="bold" text-anchor="start" fill="#222" style="stroke:none">76.9</text>
<text x="422.4" y="236.2" font-size="6.2" font-weight="bold" text-anchor="start" fill="#222" style="stroke:none">27.4</text>
<text x="513.3" y="236.2" font-size="6.2" font-weight="bold" text-anchor="end" fill="#222" style="stroke:none">45.4</text>
<text x="422.4" y="293" font-size="6.2" font-weight="bold" text-anchor="start" fill="#222" style="stroke:none">24.7</text>
<text x="304" y="345.5" font-size="6.2" font-weight="bold" text-anchor="start" fill="#222" style="stroke:none">27</text>
<text x="387.5" y="345.5" font-size="6.2" font-weight="bold" text-anchor="end" fill="#222" style="stroke:none">11</text>
<text x="302.2" y="402" font-size="6.2" font-weight="bold" text-anchor="start" fill="#222" style="stroke:none">59.9</text>
<text x="423" y="345.5" font-size="6.2" font-weight="bold" text-anchor="start" fill="#222" style="stroke:none">43.7</text>
<text x="513.5" y="345.5" font-size="6.2" font-weight="bold" text-anchor="end" fill="#222" style="stroke:none">53.3</text>
<text x="423" y="402" font-size="6.2" font-weight="bold" text-anchor="start" fill="#222" style="stroke:none">2.57</text>
<g clip-path="url(#b1)"><path d="M314.3,247.0 312.7,247.0 311.9,246.7 311.3,246.1 310.9,244.9 311.5,243.9 312.3,243.4 313.4,243.3 314.3,243.6 315.0,244.1 315.5,244.9 315.5,245.7 315.1,246.5 314.3,247.0Z M317.5,288.2 315.5,288.5 313.9,288.3 312.3,287.8 311.1,286.9 310.3,285.7 310.0,284.5 310.2,283.3 310.9,282.1 311.9,281.2 313.1,280.7 315.9,280.4 324.3,281.1 325.9,281.7 326.8,282.5 327.1,283.3 327.1,284.1 326.7,284.9 326.2,285.3 325.1,285.9 321.1,286.8 317.5,288.2Z" fill="#000" fill-rule="evenodd" fill-opacity="0.3"/><path d="M317.5,286.9 316.3,287.2 315.1,287.2 313.9,287.0 312.7,286.4 311.9,285.5 311.5,284.5 311.6,283.7 312.0,282.9 312.7,282.3 313.9,281.8 316.3,281.6 319.7,282.5 321.8,283.3 322.2,283.7 322.0,284.1 320.4,285.3 318.7,286.4 317.5,286.9Z" fill="#000" fill-rule="evenodd" fill-opacity="0.35"/><path d="M315.5,284.6 315.0,284.5 315.5,284.1 315.9,284.5 315.5,284.6Z M316.3,284.9 315.5,285.1 314.7,284.9 314.4,284.5 314.4,284.1 315.0,283.7 315.9,283.7 316.5,284.1 316.6,284.5 316.3,284.9Z M316.7,285.4 315.5,285.7 314.3,285.4 313.6,284.5 313.8,283.7 314.3,283.3 315.1,283.1 316.3,283.2 317.1,283.6 317.6,284.1 317.6,284.5 317.4,284.9 316.7,285.4Z M316.7,286.2 315.1,286.3 313.5,285.7 313.1,285.3 312.7,284.5 312.8,283.7 313.1,283.3 313.9,282.7 315.5,282.5 317.1,282.8 318.3,283.3 318.9,284.1 318.7,284.9 317.8,285.7 316.7,286.2Z M316.7,287.0 314.7,287.0 313.5,286.6 312.7,286.1 312.0,285.3 311.8,284.5 311.8,283.7 312.3,282.9 313.1,282.3 313.9,282.0 316.3,281.8 319.0,282.5 320.6,283.3 321.0,283.7 321.0,284.1 320.8,284.5 319.4,285.7 318.1,286.5 316.7,287.0Z M313.9,245.8 313.1,246.0 312.4,245.7 312.1,245.3 312.3,244.6 313.1,244.3 313.9,244.5 314.2,245.3 313.9,245.8Z M316.7,287.8 315.1,287.9 313.9,287.7 312.7,287.2 311.5,286.3 310.9,285.3 310.7,284.1 311.1,282.9 311.8,282.1 312.7,281.5 313.9,281.1 316.7,281.0 320.3,281.7 323.9,282.1 324.7,282.5 325.4,283.3 325.3,284.1 324.4,284.9 321.5,285.8 318.3,287.3 316.7,287.8Z M314.3,247.4 312.7,247.3 311.9,247.1 311.1,246.5 310.6,245.7 310.5,244.9 311.2,243.7 312.3,243.1 313.5,243.0 314.7,243.4 315.5,244.1 316.1,245.3 316.0,246.1 315.4,246.9 314.3,247.4Z M317.1,288.6 315.1,288.7 313.5,288.5 311.9,287.9 310.7,286.9 309.9,285.7 309.7,284.1 310.2,282.5 311.1,281.5 312.3,280.7 313.5,280.4 316.7,280.2 324.7,280.8 326.3,281.4 327.4,282.5 327.8,283.3 327.8,284.1 327.4,284.9 326.5,285.7 325.1,286.3 321.1,287.2 317.1,288.6Z M321.5,251.7 320.3,251.7 319.1,251.3 317.9,250.7 315.9,249.2 312.3,248.4 310.7,247.6 309.7,246.5 309.3,245.7 309.3,244.5 309.7,243.7 310.5,242.9 311.5,242.3 313.1,242.0 314.3,242.2 315.9,242.9 318.7,245.4 321.5,246.0 323.4,246.9 324.6,248.1 324.9,248.9 324.8,249.7 324.3,250.5 323.5,251.1 321.5,251.7Z M317.5,289.4 315.1,289.7 313.1,289.4 311.1,288.6 309.6,287.3 308.8,285.7 308.6,284.1 309.0,282.5 310.3,280.9 311.9,279.9 313.9,279.4 315.9,279.2 323.5,279.3 325.5,279.6 327.1,280.0 328.3,280.8 329.1,281.7 329.8,283.3 329.7,284.5 329.1,285.7 328.2,286.5 326.3,287.4 321.5,288.2 317.5,289.4Z M321.9,253.7 319.5,253.7 316.7,252.9 315.5,252.2 313.2,250.1 309.7,248.1 308.6,246.9 308.1,245.7 308.2,244.1 308.9,242.9 309.9,242.1 311.1,241.5 312.7,241.2 314.3,241.3 315.9,241.8 319.1,243.5 324.3,244.9 326.3,246.1 327.3,247.3 327.9,248.5 328.0,249.7 327.5,250.9 326.8,251.7 325.6,252.5 323.5,253.4 321.9,253.7Z M316.3,290.5 313.9,290.5 311.5,289.9 309.5,288.7 308.1,286.9 307.4,284.9 307.6,282.9 308.5,281.3 310.3,279.7 312.3,278.7 314.3,278.3 325.1,278.2 327.1,278.5 328.7,279.2 330.0,280.1 330.9,281.3 331.7,283.3 331.5,284.9 330.7,286.3 329.1,287.6 326.7,288.6 321.5,289.3 316.3,290.5Z M323.1,255.3 321.1,255.6 318.7,255.4 315.9,254.8 314.3,253.8 311.5,250.9 308.6,248.5 307.3,246.9 306.9,245.7 306.9,244.5 307.3,243.3 307.9,242.5 309.1,241.4 310.7,240.7 312.3,240.3 314.3,240.4 315.9,240.7 319.5,242.1 325.1,243.2 326.7,243.8 328.2,244.9 329.6,246.5 330.3,248.1 330.4,249.7 329.9,251.3 328.7,252.9 327.5,253.8 325.5,254.7 323.1,255.3Z M350.3,246.1 345.9,246.2 340.7,246.0 335.9,246.2 334.8,245.7 334.5,245.3 334.4,244.5 334.7,243.7 335.1,243.3 335.9,243.1 340.7,243.3 347.9,243.0 353.5,243.3 363.9,243.4 364.8,243.7 365.1,244.5 364.8,245.3 364.3,245.6 350.3,246.1Z M317.5,291.3 315.9,291.6 314.3,291.6 311.5,291.0 309.1,289.7 307.2,287.7 306.6,286.5 306.2,285.3 306.3,283.3 307.1,281.3 307.9,280.3 309.1,279.3 311.5,278.0 313.5,277.4 322.7,276.9 325.1,276.9 327.1,277.2 329.1,277.8 331.1,279.1 332.4,280.5 333.4,282.5 333.5,284.5 332.8,286.1 331.1,287.9 329.1,289.1 327.1,289.9 321.5,290.4 317.5,291.3Z M316.3,273.3 315.5,273.3 314.7,273.0 314.1,272.5 313.6,271.7 311.5,258.1 311.6,257.3 312.2,255.3 312.1,254.5 309.3,250.9 306.8,248.1 306.1,246.9 305.7,245.7 305.7,244.5 305.9,243.7 306.5,242.5 307.2,241.7 309.1,240.3 311.5,239.5 314.7,239.5 318.7,240.5 323.9,241.2 326.7,242.0 329.1,243.2 330.7,244.5 332.5,246.5 332.8,247.7 332.7,249.7 332.2,251.3 330.9,253.3 329.1,255.0 327.5,255.8 324.3,256.8 321.9,257.2 318.3,257.1 317.6,257.3 317.1,257.7 316.9,258.5 316.9,259.7 317.5,266.3 318.2,271.3 318.0,272.1 317.5,272.7 316.3,273.3Z M337.5,247.3 335.5,247.4 334.7,247.3 333.8,246.9 333.0,246.1 332.9,244.9 333.2,243.7 333.8,242.9 334.7,242.2 335.9,241.9 341.1,242.1 349.5,241.9 364.3,242.1 365.1,242.3 365.9,242.9 366.5,244.1 366.4,245.3 366.0,246.1 365.1,246.8 364.3,247.1 337.5,247.3Z M316.3,292.5 314.7,292.6 313.1,292.4 309.9,291.4 308.7,290.8 307.5,289.8 305.6,287.3 305.1,286.1 304.9,284.9 305.2,282.5 305.7,281.3 306.6,280.1 308.7,278.2 311.1,277.0 313.5,276.4 323.1,275.7 325.5,275.7 327.9,276.0 330.3,277.0 332.6,278.5 334.1,280.1 334.7,281.3 335.1,282.5 335.2,283.7 335.1,284.9 334.3,286.9 332.3,288.7 329.5,290.3 327.5,291.1 321.5,291.5 316.3,292.5Z M317.9,293.3 315.9,293.6 313.5,293.6 311.1,293.0 309.1,292.3 307.1,291.0 305.8,289.7 304.4,287.7 303.7,285.7 303.6,284.1 304.1,282.1 304.8,280.5 305.7,279.3 307.1,278.0 309.1,276.7 313.8,274.9 313.8,274.5 312.6,272.9 312.2,271.7 310.1,258.5 310.1,255.3 305.4,248.1 304.6,246.1 304.5,244.9 304.9,243.3 306.2,241.3 307.9,239.9 309.5,239.1 311.1,238.7 313.5,238.5 325.1,239.8 327.9,240.7 331.9,242.6 332.3,242.5 334.7,241.1 335.9,241.0 363.9,241.1 365.5,241.4 366.5,242.1 367.4,243.7 367.4,245.3 366.6,246.9 365.1,247.9 364.3,248.1 355.5,248.2 342.7,248.2 336.4,248.5 335.5,248.9 335.2,249.3 334.4,251.7 333.0,253.7 331.5,255.4 329.9,256.6 328.3,257.4 326.3,257.9 322.7,258.6 319.5,258.8 318.7,259.2 318.4,260.1 318.4,261.3 318.9,266.1 319.7,271.3 319.5,272.5 318.7,274.1 318.7,274.5 319.9,274.7 324.3,274.4 326.7,274.5 329.1,275.1 331.1,275.9 333.5,277.4 335.4,279.3 336.6,281.7 336.9,284.1 336.5,286.1 335.3,288.1 333.5,289.6 330.7,291.2 328.7,292.0 327.1,292.4 321.9,292.6 317.9,293.3Z" fill="none" stroke="#000" stroke-width="0.55" stroke-linejoin="round"/></g>
<g clip-path="url(#b2)"><path d="M436.0,260.5 434.4,260.3 433.2,260.0 430.8,258.7 429.8,257.7 429.3,256.9 429.0,255.3 429.3,254.1 429.8,253.3 431.2,251.8 433.2,250.8 436.0,250.2 437.6,250.1 439.6,250.3 443.6,251.7 444.8,251.9 448.0,251.7 453.2,251.9 454.8,251.6 458.0,249.1 459.6,248.3 460.8,248.0 490.0,246.4 491.6,246.6 492.8,247.0 494.4,248.0 497.2,250.1 499.8,250.5 501.4,251.3 501.4,251.7 500.8,251.8 498.0,251.9 497.2,252.2 496.4,252.8 493.7,255.7 492.4,256.4 491.2,256.8 482.8,256.9 461.6,258.2 459.2,257.5 455.6,255.5 448.0,254.9 446.8,255.1 446.0,255.5 443.9,257.7 441.6,259.2 438.4,260.2 436.0,260.5Z M436.0,291.0 434.8,291.2 433.6,291.1 431.6,290.5 430.6,289.7 429.9,288.9 429.3,287.7 429.0,286.5 429.2,284.5 429.7,283.3 430.4,282.5 432.4,281.0 434.8,280.3 436.8,280.4 438.4,281.4 439.4,282.9 440.1,285.3 440.0,287.3 439.1,288.9 437.6,290.3 436.0,291.0Z" fill="#000" fill-rule="evenodd" fill-opacity="0.3"/><path d="M468.0,256.5 462.0,256.8 460.8,256.6 460.0,256.2 458.9,255.3 458.2,254.1 458.0,252.5 458.4,251.3 459.6,250.0 460.4,249.6 461.6,249.3 469.6,249.1 474.4,248.6 490.0,247.7 491.2,247.9 492.6,248.5 493.4,249.3 494.0,250.5 494.0,252.1 493.5,253.7 492.4,254.9 491.2,255.5 490.0,255.6 482.8,255.5 468.0,256.5Z M438.4,258.9 436.8,259.2 435.2,259.1 433.6,258.7 432.4,258.0 431.6,257.3 430.9,256.1 430.8,254.9 431.4,253.7 432.1,252.9 433.2,252.2 436.0,251.5 438.4,251.6 440.4,252.5 441.9,254.1 442.2,254.9 442.2,256.1 441.8,256.9 441.0,257.7 440.0,258.3 438.4,258.9Z M435.6,289.8 434.0,289.9 432.2,289.3 431.0,288.1 430.3,286.5 430.4,284.9 431.0,283.7 432.4,282.6 434.0,281.9 435.6,281.9 437.2,282.7 438.1,283.7 438.8,285.3 438.7,286.9 438.1,288.1 437.2,289.0 435.6,289.8Z" fill="#000" fill-rule="evenodd" fill-opacity="0.45"/><path d="M490.0,252.5 488.3,252.1 487.8,251.7 489.5,250.9 490.4,250.8 490.8,251.1 490.9,251.7 490.8,252.2 490.4,252.5 490.0,252.5Z M479.6,252.6 477.2,252.7 476.0,252.5 475.7,252.1 476.3,251.7 478.1,251.3 479.6,251.3 480.9,251.7 480.7,252.1 479.6,252.6Z M467.2,253.4 464.0,253.6 462.7,253.3 462.6,252.9 464.4,252.3 466.4,252.2 467.6,252.5 468.1,252.9 467.2,253.4Z M437.6,256.1 436.8,256.4 435.6,256.2 435.1,255.7 435.1,254.9 435.6,254.4 436.4,254.2 437.6,254.4 438.1,254.9 438.2,255.3 438.1,255.7 437.6,256.1Z M434.4,286.6 433.8,286.1 433.9,285.7 434.4,285.4 435.0,285.7 435.0,286.1 434.8,286.5 434.4,286.6Z" fill="#fff" fill-rule="evenodd"/><path d="M436.8,255.5 436.3,255.3 436.8,255.1 437.0,255.3 436.8,255.5Z M437.2,255.8 436.8,255.9 436.0,255.8 435.6,255.3 435.8,254.9 436.4,254.6 437.2,254.7 437.6,255.3 437.2,255.8Z M490.4,252.6 488.8,252.5 487.1,252.1 486.3,251.7 489.6,250.7 490.4,250.7 490.8,250.9 491.1,251.7 490.8,252.4 490.4,252.6Z M478.4,252.9 476.0,252.7 475.2,252.5 475.0,252.1 476.8,251.4 478.4,251.2 480.8,251.3 481.6,251.7 481.3,252.1 480.4,252.5 478.4,252.9Z M466.4,253.7 463.2,253.7 462.0,253.3 462.0,252.9 463.2,252.4 465.6,252.0 467.6,252.3 468.3,252.5 468.7,252.9 468.3,253.3 466.4,253.7Z M436.8,256.5 435.6,256.3 434.9,255.7 434.9,254.9 435.3,254.5 436.0,254.2 436.8,254.1 438.0,254.6 438.3,255.3 438.2,255.7 437.6,256.3 436.8,256.5Z M434.8,286.7 434.0,286.6 433.6,286.2 433.6,285.7 434.0,285.3 434.8,285.3 435.3,285.7 435.2,286.4 434.8,286.7Z M465.2,254.5 462.8,254.5 461.6,254.3 460.8,253.5 460.8,252.5 461.6,251.8 464.8,251.4 470.4,251.6 477.6,250.5 484.4,250.4 490.0,249.9 490.8,250.0 491.2,250.3 491.8,251.3 491.6,252.5 491.2,253.0 490.4,253.4 483.2,252.9 478.8,253.7 472.8,253.7 465.2,254.5Z M437.6,257.0 436.0,257.1 434.5,256.5 433.9,255.7 433.9,254.9 434.2,254.5 435.2,253.8 436.4,253.5 437.6,253.6 438.4,254.0 439.1,254.9 439.1,255.7 438.5,256.5 437.6,257.0Z M435.6,287.3 434.4,287.7 433.2,287.2 432.6,286.1 432.8,285.3 433.1,284.9 433.6,284.5 434.4,284.3 435.2,284.4 435.9,284.9 436.2,285.3 436.3,286.1 436.0,286.9 435.6,287.3Z M463.2,255.3 462.0,255.3 461.2,255.1 460.1,254.1 459.8,253.3 459.8,252.5 460.2,251.7 460.8,251.2 461.6,250.9 464.4,250.7 470.0,250.6 477.2,249.8 484.4,249.6 490.0,249.1 490.8,249.2 491.7,249.7 492.3,250.5 492.5,251.3 492.4,252.5 491.9,253.3 491.2,253.9 490.4,254.2 483.2,253.9 478.8,254.4 473.6,254.5 468.0,255.1 463.2,255.3Z M437.6,257.7 435.6,257.8 434.4,257.4 433.6,256.9 432.8,255.7 432.8,254.9 433.3,254.1 434.4,253.3 436.4,252.8 438.0,253.0 439.2,253.7 440.0,254.9 440.0,256.1 439.2,257.0 437.6,257.7Z M435.6,288.3 434.4,288.5 433.6,288.3 432.8,287.9 432.2,287.3 431.8,286.5 431.8,285.7 432.0,284.9 432.8,284.0 433.6,283.6 434.8,283.5 436.0,283.9 436.8,284.6 437.2,285.7 437.2,286.5 436.5,287.7 435.6,288.3Z M463.6,256.1 461.2,256.0 460.0,255.4 459.3,254.5 458.8,253.3 458.9,252.1 459.3,251.3 460.1,250.5 461.6,250.0 469.6,249.7 475.2,249.2 490.0,248.3 491.2,248.5 492.0,248.9 492.9,249.7 493.3,250.9 493.2,252.5 492.7,253.7 491.8,254.5 490.8,254.9 483.2,254.8 479.2,255.2 474.4,255.3 463.6,256.1Z M437.6,258.5 436.0,258.6 434.8,258.4 433.6,257.9 432.6,257.3 432.0,256.5 431.7,255.7 431.8,254.5 432.3,253.7 433.2,252.9 434.0,252.6 436.4,252.0 438.4,252.3 440.2,253.3 440.8,254.1 441.2,254.9 441.3,255.7 441.0,256.5 439.8,257.7 437.6,258.5Z M434.8,289.3 433.2,289.1 432.0,288.3 431.1,286.9 430.9,285.7 431.3,284.5 432.0,283.6 433.2,282.9 434.8,282.6 436.0,282.8 437.2,283.7 438.0,284.9 438.2,286.1 437.9,287.3 437.2,288.2 436.0,289.0 434.8,289.3Z M465.2,256.9 461.2,257.0 460.0,256.6 458.9,255.7 457.8,254.1 457.6,252.9 457.8,251.7 458.5,250.5 460.0,249.4 461.6,249.0 469.2,248.8 474.4,248.3 490.0,247.5 491.6,247.7 492.8,248.3 493.8,249.3 494.3,250.5 494.4,252.1 493.8,253.7 492.8,254.9 491.2,255.7 482.8,255.8 465.2,256.9Z M437.6,259.4 435.6,259.4 434.0,259.1 432.4,258.4 431.2,257.3 430.7,256.5 430.4,255.3 430.8,254.1 431.7,252.9 433.6,251.8 435.2,251.4 437.2,251.2 439.6,251.7 440.8,252.4 441.9,253.3 442.7,254.9 442.7,256.1 442.3,256.9 441.5,257.7 440.4,258.4 437.6,259.4Z M435.2,290.1 433.2,290.0 431.7,289.3 430.9,288.5 430.4,287.7 430.0,286.1 430.3,284.5 431.2,283.1 432.8,282.1 434.8,281.5 436.4,281.9 437.6,282.6 438.7,284.1 439.1,285.7 438.9,287.3 438.1,288.5 436.8,289.6 435.2,290.1Z M438.4,260.1 436.4,260.4 434.4,260.2 432.4,259.5 430.4,258.2 429.5,256.9 429.1,255.7 429.4,254.1 430.2,252.9 431.2,252.0 432.8,251.1 435.2,250.4 437.2,250.2 440.0,250.5 444.0,252.2 445.2,252.5 448.0,252.3 451.2,252.7 453.6,252.6 454.8,252.2 457.0,250.1 458.4,249.1 460.8,248.1 489.6,246.6 491.6,246.7 493.6,247.6 495.7,249.3 496.8,250.9 496.7,251.7 494.4,254.9 492.8,256.1 491.2,256.7 482.8,256.8 461.6,258.0 460.4,257.8 459.2,257.4 456.0,255.2 455.2,254.9 452.8,254.8 450.0,254.2 447.6,254.2 446.8,254.3 446.0,254.8 444.0,257.3 442.5,258.5 440.4,259.5 438.4,260.1Z M435.6,290.9 434.4,291.1 433.2,291.0 431.2,290.1 429.8,288.5 429.3,287.3 429.1,286.1 429.4,284.1 430.8,282.3 432.8,281.0 435.2,280.4 436.8,280.6 438.5,281.7 439.5,283.3 440.1,285.7 439.9,287.3 439.0,288.9 437.6,290.1 435.6,290.9Z M438.0,261.3 435.6,261.7 434.0,261.5 430.8,259.9 428.8,258.2 427.9,256.5 427.8,254.9 428.5,253.3 430.0,251.6 431.2,250.7 432.8,250.0 437.2,248.9 439.2,248.9 443.2,249.3 453.2,248.9 455.6,248.6 459.2,247.3 460.8,247.0 490.0,245.5 492.4,245.8 495.6,246.9 496.8,247.1 502.4,247.1 506.0,246.7 507.2,246.9 508.4,247.5 509.2,248.3 509.8,249.3 510.2,250.5 510.0,252.1 509.4,253.3 508.4,254.4 507.2,255.1 504.0,255.5 497.2,255.4 496.0,255.7 493.2,257.2 491.2,257.7 474.8,258.3 462.0,259.1 460.4,259.0 456.0,257.9 448.4,257.9 446.4,258.2 441.6,260.3 438.0,261.3Z M434.4,268.2 433.6,267.4 432.8,266.1 433.0,265.3 433.6,264.8 434.4,264.9 434.8,265.3 434.9,265.7 434.8,267.8 434.4,268.2Z M437.2,275.4 436.8,275.7 436.4,275.4 435.1,273.3 434.6,271.3 434.8,269.3 435.2,269.4 436.4,270.4 437.6,272.1 437.8,273.7 437.2,275.4Z M436.4,291.7 434.8,292.0 433.2,291.9 432.0,291.6 430.7,290.9 429.4,289.7 428.6,288.5 428.2,287.3 428.1,285.7 428.5,283.7 430.0,281.7 431.6,280.4 435.0,278.5 436.8,277.1 437.2,277.2 437.6,277.5 440.0,280.2 440.9,283.7 441.1,286.1 440.6,288.1 439.6,289.7 438.0,291.0 436.4,291.7Z M435.2,293.0 433.6,293.0 432.0,292.7 430.8,292.2 429.6,291.4 428.7,290.5 427.9,289.3 427.4,288.1 427.0,286.5 427.1,284.9 427.8,282.9 428.9,281.3 431.7,278.5 432.2,277.3 431.6,273.8 429.5,266.5 429.6,264.9 430.6,262.5 430.5,261.7 427.5,258.5 426.6,256.9 426.4,255.7 426.6,254.1 427.5,252.5 428.8,251.2 430.8,249.7 435.2,247.9 437.6,247.3 442.4,247.3 454.0,246.8 456.4,246.5 460.4,245.8 473.2,245.3 489.6,244.3 496.0,244.9 507.2,244.4 508.4,244.8 509.6,245.4 510.8,246.4 511.7,247.7 512.3,248.9 512.6,250.5 512.6,251.7 512.1,253.3 511.2,254.9 510.1,256.1 508.8,256.9 507.2,257.5 503.2,257.8 497.2,257.6 490.8,259.0 474.0,259.6 463.6,260.3 461.2,260.3 456.8,260.0 447.6,260.1 445.2,260.5 441.3,261.7 439.2,262.5 438.8,262.9 438.5,263.7 438.7,265.7 439.4,268.5 440.6,272.1 441.3,275.7 442.6,279.7 442.2,286.5 441.4,288.9 439.8,290.9 437.6,292.3 435.2,293.0Z M436.4,293.8 434.8,294.0 432.8,293.9 431.2,293.5 429.6,292.7 428.0,291.3 427.1,290.1 426.2,288.1 425.9,286.5 425.9,284.9 426.5,282.9 427.5,281.3 429.5,278.9 429.9,278.1 430.0,277.3 429.6,274.5 427.4,266.5 427.4,264.9 428.1,262.5 428.1,261.7 427.8,260.9 426.1,258.9 425.4,257.7 425.1,256.5 425.0,254.9 425.5,253.3 426.5,251.7 428.0,250.3 430.8,248.3 434.8,246.2 436.4,245.6 437.6,245.4 442.0,245.4 453.6,244.8 459.6,244.2 463.6,244.3 472.4,243.9 486.8,243.0 494.4,243.0 506.4,242.5 508.4,242.7 510.0,243.4 511.6,244.5 513.3,246.5 514.2,248.5 514.7,250.5 514.6,252.1 513.9,254.1 512.7,256.1 511.2,257.7 509.6,258.7 507.6,259.4 503.6,259.7 497.2,259.7 491.2,260.4 484.7,260.5 466.0,261.6 446.8,262.1 443.9,262.5 441.7,263.3 441.2,263.8 440.9,264.5 440.9,266.1 441.6,269.2 444.4,278.5 444.5,279.7 444.4,281.3 443.2,287.3 442.1,289.7 440.9,291.3 439.6,292.4 438.4,293.1 436.4,293.8Z M430.9,294.5 428.8,293.4 426.9,291.7 425.8,290.1 424.9,287.7 424.7,285.7 425.0,283.7 425.9,281.7 428.0,278.6 428.3,277.3 428.0,275.7 425.7,266.9 425.6,264.9 426.1,261.7 425.8,260.9 423.9,257.7 423.6,256.5 423.5,255.3 424.1,252.9 425.5,250.9 430.0,247.1 432.8,245.2 435.6,243.9 437.6,243.6 448.4,243.3 458.4,242.6 463.6,242.6 471.2,242.3 476.8,241.9 482.0,241.8 486.0,241.4 506.8,240.7 509.2,241.1 510.4,241.6 512.0,242.5 514.0,244.5 515.6,247.1 M515.6,254.7 514.1,257.3 512.0,259.4 509.6,260.7 507.2,261.3 485.5,262.1 480.0,262.6 472.4,262.7 467.2,263.1 447.2,263.8 444.8,264.1 443.8,264.5 443.1,265.3 443.0,266.9 443.6,269.6 446.2,278.1 446.3,279.7 446.1,281.7 444.2,288.1 442.9,290.5 441.6,292.1 440.4,293.2 437.7,294.5" fill="none" stroke="#000" stroke-width="0.55" stroke-linejoin="round"/></g>
<g clip-path="url(#b3)"><path d="M321.1,398.9 319.5,399.0 317.1,398.6 315.1,397.9 313.5,397.0 312.5,396.1 311.3,394.5 310.1,392.5 309.6,390.9 309.9,375.7 309.7,368.1 309.8,360.5 309.5,353.7 309.8,352.5 310.7,351.1 311.9,350.1 313.5,349.5 315.5,349.6 319.5,351.3 324.7,352.3 326.4,353.3 327.0,354.1 327.2,354.9 327.2,355.7 326.8,356.5 325.5,357.9 323.9,358.8 321.1,359.5 320.3,359.9 319.6,360.9 319.2,362.5 319.0,368.1 319.1,372.9 318.8,377.3 318.7,384.1 318.8,386.9 319.1,388.9 319.5,389.7 320.1,390.1 323.5,390.8 325.5,391.7 326.9,392.9 327.5,394.5 327.5,395.3 327.2,396.1 326.1,397.3 323.9,398.3 321.1,398.9Z M349.1,355.0 347.9,355.1 346.4,354.9 345.6,354.5 345.3,354.1 345.3,353.7 345.7,353.3 346.8,352.9 348.3,352.8 349.5,353.0 350.1,353.3 350.4,353.7 350.4,354.1 350.1,354.5 349.1,355.0Z" fill="#000" fill-rule="evenodd" fill-opacity="0.3"/><path d="M321.1,397.7 319.5,397.8 317.9,397.5 316.3,397.0 315.1,396.2 314.0,395.3 311.9,392.8 311.2,391.7 310.8,390.5 311.1,380.5 311.4,376.1 311.3,360.1 310.9,353.7 311.1,352.9 311.6,352.1 312.3,351.5 313.5,351.0 315.1,351.1 316.7,352.0 318.5,353.7 319.4,355.3 319.2,356.1 317.9,358.9 317.3,361.7 317.1,368.1 317.2,372.5 316.9,376.9 317.0,380.5 316.9,385.3 317.2,388.9 317.6,390.5 318.3,391.4 319.1,391.8 322.3,392.2 323.9,392.7 325.1,393.7 325.4,394.9 325.2,395.7 324.3,396.6 322.7,397.3 321.1,397.7Z" fill="#000" fill-rule="evenodd" fill-opacity="0.35"/><path d="M314.7,356.6 314.3,356.7 313.9,356.2 313.5,355.0 313.5,353.8 313.9,353.5 314.7,353.7 315.1,354.6 315.1,355.7 314.7,356.6Z M314.3,390.9 313.9,391.0 313.4,390.5 313.5,389.6 313.9,389.2 314.5,390.1 314.6,390.5 314.3,390.9Z M320.7,395.7 319.1,395.7 318.5,395.3 318.3,394.9 318.5,394.5 319.1,394.2 320.7,394.2 321.4,394.5 321.6,394.9 321.5,395.3 320.7,395.7Z" fill="#fff" fill-rule="evenodd"/><path d="M320.3,395.1 319.9,395.1 319.6,394.9 320.3,394.8 320.4,394.9 320.3,395.1Z M314.3,355.4 313.9,354.5 314.3,354.1 314.6,354.9 314.3,355.4Z M320.7,395.5 319.5,395.5 319.0,395.3 318.8,394.9 319.1,394.5 319.5,394.4 320.7,394.4 321.2,394.9 321.0,395.3 320.7,395.5Z M314.3,359.0 313.9,358.3 313.5,357.0 313.0,354.5 313.1,353.6 313.5,353.2 313.9,353.1 314.7,353.3 315.2,353.7 315.7,355.3 315.5,356.7 314.7,358.6 314.3,359.0Z M313.9,383.7 313.5,383.2 313.2,381.3 313.4,380.1 313.9,379.5 314.3,379.7 314.5,380.1 314.7,381.3 314.3,383.4 313.9,383.7Z M314.3,391.5 313.5,391.3 313.1,390.9 312.9,390.1 313.5,387.8 313.9,387.4 314.3,387.9 315.1,390.5 314.7,391.3 314.3,391.5Z M319.9,396.1 318.3,395.6 317.8,394.9 317.8,394.5 318.7,394.0 319.9,393.8 321.1,394.0 322.0,394.5 322.2,394.9 322.0,395.3 321.6,395.7 319.9,396.1Z M315.1,392.6 314.3,392.6 313.1,392.0 312.3,390.9 312.1,390.1 312.7,385.7 312.4,380.5 313.5,376.5 312.8,372.9 313.0,368.5 312.8,364.5 312.9,360.1 312.3,354.1 312.4,353.3 312.7,352.9 313.9,352.4 314.7,352.5 315.9,353.3 316.5,354.5 316.7,355.7 315.7,360.5 315.6,364.5 315.3,368.1 315.5,372.1 314.6,376.5 315.5,380.5 315.2,386.1 315.9,390.5 315.6,392.1 315.1,392.6Z M321.1,396.5 319.5,396.6 317.7,396.1 317.1,395.7 316.4,394.9 316.3,394.1 316.5,393.7 317.5,393.4 319.5,393.2 321.1,393.3 322.4,393.7 323.2,394.5 323.1,395.3 322.2,396.1 321.1,396.5Z M321.9,397.0 320.3,397.3 319.1,397.2 317.7,396.9 316.3,396.2 312.3,392.2 311.7,391.3 311.4,390.5 311.8,385.3 311.7,380.5 312.2,376.5 311.9,372.5 312.0,360.1 311.5,353.7 312.1,352.5 312.7,352.0 313.5,351.7 314.7,351.7 316.2,352.5 317.3,353.7 317.9,355.3 317.8,356.5 317.0,358.9 316.7,360.5 316.3,367.7 316.4,372.1 316.1,376.9 316.3,380.5 316.2,385.7 316.6,389.7 317.0,391.3 317.6,392.1 318.3,392.4 322.3,392.9 323.5,393.4 324.3,394.1 324.5,394.9 324.1,395.7 323.1,396.5 321.9,397.0Z M321.9,397.7 320.3,397.9 318.3,397.8 316.7,397.3 315.1,396.5 313.7,395.3 311.9,393.0 311.1,391.7 310.7,390.5 310.9,380.5 311.2,376.1 311.1,360.1 310.7,353.7 310.9,352.9 311.5,352.0 312.3,351.3 313.5,350.8 315.1,350.9 316.6,351.7 319.0,353.7 319.7,354.5 320.1,355.3 319.8,356.1 318.3,358.5 317.6,361.3 317.3,368.1 317.4,372.5 317.1,376.9 317.1,385.7 317.5,389.3 317.8,390.5 318.3,391.1 319.5,391.6 321.9,391.9 323.5,392.4 324.7,393.0 325.6,394.1 325.6,395.3 325.1,396.2 323.9,397.0 321.9,397.7Z M321.5,398.5 319.5,398.7 317.5,398.4 315.9,397.9 314.3,397.0 313.1,396.1 312.1,394.9 310.6,392.5 310.0,390.9 310.3,375.7 310.1,368.1 310.2,360.5 309.9,353.7 310.2,352.5 311.0,351.3 312.3,350.3 313.5,349.9 315.5,350.1 319.5,352.0 323.9,353.0 325.2,353.7 325.9,354.9 325.8,356.1 324.7,357.4 323.5,358.0 321.0,358.5 319.9,359.0 319.1,360.2 318.7,362.1 318.1,384.1 318.5,388.9 318.7,389.7 319.6,390.5 323.5,391.3 325.2,392.1 326.5,393.3 326.9,394.5 326.8,395.7 325.8,396.9 323.9,397.9 321.5,398.5Z M321.5,399.4 319.5,399.4 317.1,399.1 314.7,398.3 313.1,397.4 311.9,396.3 310.9,394.9 309.6,392.5 309.1,390.9 309.4,375.3 309.2,368.5 309.3,362.1 309.1,353.3 309.6,351.7 310.6,350.5 311.9,349.5 313.5,349.0 315.5,349.1 319.5,350.4 323.9,351.1 325.5,351.5 327.5,352.6 328.3,353.6 328.6,354.5 328.5,356.1 327.4,357.7 325.1,359.3 321.1,360.9 320.4,361.7 320.1,362.9 319.9,368.1 320.1,372.9 319.7,376.9 319.5,384.5 319.8,388.1 320.2,388.9 320.7,389.3 324.3,390.3 326.3,391.4 327.7,392.9 328.1,393.7 328.3,394.9 328.2,395.7 327.8,396.5 326.5,397.7 324.3,398.7 321.5,399.4Z M349.9,355.8 347.9,356.0 345.5,355.7 343.7,354.9 342.9,354.1 342.9,353.7 343.1,353.3 343.9,352.7 345.9,352.0 348.7,351.8 350.7,352.1 352.2,352.9 352.7,353.7 352.6,354.1 351.8,354.9 349.9,355.8Z M322.3,400.1 319.9,400.3 317.1,399.9 314.7,399.3 312.7,398.3 311.4,397.3 310.1,395.7 308.8,392.9 308.2,390.9 308.4,375.3 308.2,368.5 308.3,361.7 308.1,353.3 308.8,351.3 309.9,349.8 311.5,348.7 313.5,348.0 315.9,348.1 319.7,348.9 324.7,349.6 327.1,350.3 328.7,351.1 329.9,352.1 330.7,353.3 331.0,354.5 330.9,356.1 330.0,357.7 327.9,359.6 323.7,362.5 323.2,363.3 323.0,364.5 323.2,367.7 323.9,372.1 324.1,376.1 324.7,379.7 324.6,385.7 325.0,386.9 325.7,388.1 329.2,392.5 329.8,394.1 329.8,395.3 329.2,396.9 327.5,398.4 325.1,399.5 322.3,400.1Z M350.3,356.9 348.3,357.1 346.3,357.0 340.7,355.9 337.5,355.5 336.6,354.9 336.3,353.7 336.7,352.9 337.5,352.4 340.3,352.0 345.1,350.8 347.9,350.6 350.3,350.7 355.1,351.7 357.5,351.9 374.3,351.2 375.3,351.7 375.7,352.5 375.8,353.3 375.5,354.0 375.0,354.5 374.3,354.8 362.3,354.9 356.7,355.2 354.7,355.6 350.3,356.9Z M323.5,401.0 321.1,401.3 318.7,401.1 315.1,400.4 312.3,399.3 310.7,398.2 309.5,396.9 308.5,394.9 307.6,392.5 307.2,390.1 307.4,375.3 307.2,368.1 307.3,360.5 307.1,353.7 307.2,352.5 307.6,351.3 309.1,349.2 310.3,348.2 311.5,347.5 312.7,347.1 314.3,346.9 317.1,347.0 323.5,347.8 327.1,348.6 329.5,349.6 331.3,350.9 333.5,353.1 333.9,353.1 335.9,351.3 337.1,350.9 340.3,350.6 347.1,349.5 349.9,349.5 354.3,350.2 356.7,350.3 364.3,350.2 374.3,349.7 375.5,350.0 376.3,350.6 376.8,351.3 377.1,352.1 377.2,352.9 377.0,354.1 376.6,354.9 375.9,355.7 374.3,356.3 363.1,356.5 356.3,356.8 350.7,357.9 348.3,358.1 345.5,357.9 341.1,357.3 337.5,357.2 336.3,356.9 334.3,355.8 333.9,355.9 333.5,356.2 331.9,358.5 328.6,361.3 327.5,362.5 326.9,363.7 326.8,364.9 327.6,374.9 328.5,379.3 329.1,386.5 329.6,388.9 331.3,392.9 331.5,394.5 331.4,395.7 330.9,396.9 330.4,397.7 328.7,399.1 326.3,400.3 323.5,401.0Z M324.3,402.2 321.9,402.5 319.9,402.4 314.3,401.2 311.9,400.2 309.9,399.0 308.5,397.7 307.6,396.1 306.9,394.1 306.4,392.1 306.2,390.1 306.4,375.7 306.2,367.7 306.2,361.3 305.9,354.1 306.0,352.5 306.6,350.9 307.2,349.7 308.3,348.4 309.9,347.1 312.3,346.0 314.7,345.6 317.5,345.5 321.9,345.9 325.9,346.7 329.5,348.0 333.9,350.3 334.7,350.2 337.1,349.6 339.9,349.5 345.5,348.7 348.3,348.5 356.7,349.2 374.3,348.5 375.9,348.9 377.1,349.8 377.7,350.5 378.2,351.7 378.4,352.9 378.2,354.1 377.7,355.3 377.1,356.1 376.3,356.8 375.1,357.3 356.3,358.0 348.7,359.0 341.1,358.4 335.5,358.4 334.3,358.8 330.6,362.1 329.6,363.7 329.5,366.1 330.4,374.5 331.2,379.3 331.8,385.3 333.3,392.5 333.3,395.3 332.6,397.3 331.7,398.5 330.7,399.5 327.9,401.1 324.3,402.2Z M318.0,403.3 313.1,401.9 311.1,401.1 309.1,399.9 307.9,398.9 306.9,397.7 306.1,396.1 305.7,394.5 305.2,390.5 305.3,375.3 305.0,362.1 304.5,356.1 304.5,354.1 304.8,352.1 305.3,350.5 306.5,348.5 307.9,347.0 310.3,345.4 312.7,344.4 315.5,343.8 318.7,343.6 321.5,343.9 324.3,344.6 329.5,346.4 334.7,348.6 339.9,348.4 347.9,347.5 356.3,348.1 374.3,347.5 376.3,347.9 377.7,348.9 378.7,350.1 379.2,351.3 379.4,352.5 379.3,354.1 378.9,355.3 377.9,356.8 376.7,357.8 375.5,358.3 374.3,358.5 356.7,359.1 349.5,359.9 341.1,359.5 338.7,359.6 335.9,360.1 334.7,360.9 333.0,362.5 332.0,364.1 331.9,366.1 332.5,370.1 332.8,374.1 333.8,380.1 334.3,385.3 335.4,390.9 335.4,394.5 334.6,397.3 333.0,399.7 331.9,400.8 330.3,401.9 327.4,403.3 M363.5,391.7 362.3,391.7 361.2,391.3 360.7,390.9 360.6,390.5 360.8,390.1 361.5,389.6 362.7,389.3 363.9,389.3 364.9,389.7 365.3,390.1 365.5,390.5 365.3,390.9 364.7,391.4 363.5,391.7Z" fill="none" stroke="#000" stroke-width="0.55" stroke-linejoin="round"/></g>
<g clip-path="url(#b4)"><path d="M434.8,372.5 428.4,372.4 426.8,371.8 425.6,370.8 424.2,368.9 423.8,366.9 423.8,365.7 424.1,364.5 425.2,362.8 426.4,361.9 427.6,361.4 432.8,360.4 461.6,357.5 476.0,355.1 480.4,354.9 486.4,354.3 492.4,354.1 494.4,354.4 495.6,355.1 496.8,356.1 497.6,357.3 498.0,358.5 498.0,360.5 497.0,362.5 495.6,363.8 493.6,364.8 488.4,365.4 482.8,366.4 468.2,367.7 461.6,368.6 450.0,369.7 434.8,372.5Z" fill="#000" fill-rule="evenodd" fill-opacity="0.3"/><path d="M435.6,370.5 429.2,370.8 428.0,370.6 427.2,370.2 426.0,369.1 425.4,367.7 425.3,366.1 425.9,364.5 426.8,363.5 428.0,363.0 434.8,361.6 439.6,361.0 445.2,360.9 456.8,359.5 463.2,359.1 468.8,357.9 476.8,356.6 492.8,355.7 494.0,356.1 495.0,356.9 495.6,357.7 496.0,358.9 495.9,360.5 495.3,361.7 494.4,362.6 492.8,363.3 487.9,363.7 481.6,365.0 471.6,365.9 467.6,366.0 462.8,366.8 448.0,368.2 435.6,370.5Z" fill="#000" fill-rule="evenodd" fill-opacity="0.45"/><path d="M480.4,361.8 478.2,361.7 477.4,361.3 477.2,360.9 477.4,360.5 477.9,360.1 479.2,359.7 480.8,359.8 481.6,360.1 482.0,360.5 482.0,360.9 481.7,361.3 480.4,361.8Z M437.2,366.5 436.4,366.4 435.9,366.1 435.8,365.7 436.0,365.3 436.5,364.9 437.6,364.5 438.4,364.4 439.2,364.6 439.7,364.9 439.7,365.3 439.3,365.7 438.4,366.2 437.2,366.5Z" fill="#fff" fill-rule="evenodd"/><path d="M480.0,361.0 479.1,360.9 479.4,360.5 480.0,360.5 480.2,360.9 480.0,361.0Z M480.4,361.4 478.8,361.4 478.4,361.3 478.1,360.9 478.2,360.5 478.9,360.1 480.4,360.1 481.2,360.5 481.3,360.9 480.4,361.4Z M438.0,365.8 437.2,365.9 436.7,365.7 436.9,365.3 438.0,364.9 438.6,365.3 438.0,365.8Z M479.6,362.1 478.4,362.1 477.1,361.7 476.5,361.3 476.4,360.9 477.2,360.1 478.0,359.7 479.2,359.4 481.6,359.7 482.4,360.1 482.7,360.5 482.7,360.9 482.4,361.3 481.7,361.7 479.6,362.1Z M438.4,366.6 437.2,366.8 436.0,366.8 435.4,366.5 435.1,366.1 435.1,365.7 435.8,364.9 437.2,364.3 438.8,364.1 440.3,364.5 440.6,364.9 440.4,365.3 439.4,366.1 438.4,366.6Z M481.6,362.5 478.8,362.8 472.0,362.6 470.8,362.3 470.1,361.7 470.1,361.3 470.5,360.9 471.4,360.5 478.8,358.8 480.4,358.8 482.4,359.0 484.7,359.7 485.2,360.1 485.1,360.5 484.4,361.3 483.0,362.1 481.6,362.5Z M436.8,367.7 435.2,367.7 434.0,367.5 433.2,367.2 432.8,366.9 432.7,366.5 433.1,365.7 434.6,364.5 435.6,364.0 437.2,363.5 439.2,363.3 440.8,363.4 442.4,363.9 443.3,364.5 443.3,364.9 442.5,365.7 438.8,367.3 436.8,367.7Z M437.6,368.5 434.8,368.8 428.8,368.8 428.0,368.5 427.6,368.1 427.2,367.3 427.1,366.5 427.6,365.5 428.4,365.0 431.2,364.6 434.8,363.3 436.8,362.8 440.4,362.5 446.4,363.1 449.6,362.4 452.8,362.2 457.2,361.6 464.8,361.7 465.6,361.5 469.5,359.7 478.0,358.1 489.2,358.1 492.4,357.7 493.2,358.0 493.6,358.3 494.0,359.3 493.7,360.5 492.8,361.3 487.6,361.6 483.2,363.0 481.6,363.4 471.6,363.9 466.4,363.4 462.8,364.4 456.8,365.3 452.4,365.5 446.4,366.1 437.6,368.5Z M436.0,369.7 429.2,370.0 427.9,369.7 426.8,368.9 426.1,367.7 426.0,366.5 426.3,365.3 426.9,364.5 428.0,363.8 435.6,362.2 440.0,361.7 446.0,361.7 456.8,360.3 463.6,360.0 469.2,358.6 477.6,357.2 489.6,356.8 492.4,356.5 493.6,356.8 494.3,357.3 494.9,358.1 495.2,358.9 495.1,360.1 494.6,361.3 493.7,362.1 492.8,362.5 487.6,362.9 481.6,364.3 471.6,365.1 467.2,365.1 462.8,365.9 447.2,367.4 436.0,369.7Z M435.2,370.9 429.2,371.1 428.0,370.9 426.8,370.3 425.6,368.9 425.0,367.3 425.0,365.7 425.8,364.1 426.8,363.2 428.0,362.6 434.0,361.4 439.2,360.8 445.2,360.5 456.8,359.1 462.8,358.7 476.8,356.3 492.8,355.4 494.0,355.8 495.1,356.5 495.8,357.3 496.3,358.5 496.4,360.1 495.7,361.7 494.4,363.0 492.8,363.6 487.6,364.1 482.0,365.3 467.6,366.4 462.8,367.1 448.7,368.5 435.2,370.9Z M436.4,372.1 434.0,372.4 429.2,372.3 427.6,372.0 426.3,371.3 425.4,370.5 424.6,369.3 423.9,367.3 423.9,366.1 424.1,364.9 424.9,363.3 426.0,362.3 427.6,361.5 432.0,360.6 438.0,359.9 443.6,359.5 456.8,358.0 461.2,357.7 475.6,355.3 484.8,354.6 492.0,354.2 494.0,354.5 495.2,355.0 496.6,356.1 497.4,357.3 497.8,358.5 497.8,360.5 496.8,362.5 495.2,363.9 493.2,364.8 488.2,365.3 482.4,366.3 468.0,367.6 462.4,368.4 449.2,369.7 436.4,372.1Z M436.0,374.5 434.8,374.8 433.6,374.8 428.8,374.0 426.8,373.2 424.8,371.5 423.3,369.3 422.7,366.9 422.7,365.7 423.0,364.1 423.6,362.9 424.4,362.0 425.6,361.1 427.2,360.3 431.2,359.5 437.2,358.7 442.4,358.3 446.8,357.7 452.0,357.4 460.4,356.4 476.0,354.0 492.0,352.9 494.8,353.2 498.8,355.0 500.0,355.3 504.4,354.8 508.8,354.9 510.5,355.7 511.2,356.5 511.5,357.3 511.5,358.1 511.2,358.9 509.9,360.1 508.8,360.5 506.4,360.6 501.2,361.4 499.6,362.3 496.4,364.8 494.0,365.9 482.8,367.6 468.8,368.8 460.4,369.9 450.2,370.9 445.6,371.7 440.0,373.1 436.0,374.5Z M436.4,377.8 434.4,377.9 432.4,377.8 430.4,377.4 428.8,376.8 427.2,375.8 426.0,374.9 424.4,373.3 423.2,371.7 421.8,368.9 421.5,367.3 421.5,365.3 421.8,363.7 422.3,362.5 423.1,361.3 424.4,360.2 426.4,359.1 428.0,358.6 436.0,357.4 442.0,357.0 447.2,356.2 452.4,355.9 466.8,354.1 475.2,352.8 484.0,351.8 492.8,351.3 499.6,351.4 507.6,350.4 508.8,350.5 510.0,350.9 512.8,352.7 514.2,354.5 515.2,356.9 515.3,358.9 514.4,360.9 512.4,363.0 511.2,363.9 510.0,364.4 500.0,365.7 493.6,367.6 482.4,369.1 475.0,369.7 448.3,372.9 443.9,374.1 441.3,375.3 438.0,377.2 436.4,377.8Z M421.2,361.4 422.4,359.9 424.0,358.6 426.4,357.4 428.8,356.7 436.4,355.6 441.2,355.3 446.8,354.6 452.4,354.1 462.0,352.8 484.8,350.0 497.2,348.9 508.0,347.7 510.0,348.0 512.8,349.1 514.4,350.1 515.6,351.5 M515.6,363.9 514.4,365.0 512.8,366.1 511.6,366.7 510.0,367.2 493.6,369.6 482.4,370.9 477.2,371.3 470.8,372.2 449.1,374.9 445.6,376.0 440.8,378.8 439.2,379.5 437.2,380.0 435.2,380.3 432.8,380.3 430.4,379.9 428.0,379.2 426.4,378.4 425.0,377.3 423.5,375.7 422.2,373.7 421.2,371.6 M421.2,358.6 423.6,356.7 426.0,355.5 428.4,354.8 433.2,354.0 444.4,352.9 453.6,351.6 500.0,345.9 507.2,345.3 509.6,345.4 512.8,346.1 515.6,347.7 M515.6,367.1 514.0,368.2 512.0,369.2 507.2,370.2 484.0,373.1 478.4,373.4 472.8,374.3 449.6,377.2 446.9,378.1 440.8,381.2 438.4,381.9 436.0,382.3 431.6,382.3 427.6,381.4 425.2,380.4 423.6,379.3 422.2,378.1 421.2,376.7 M434.4,393.9 433.6,394.0 432.8,393.9 432.0,393.5 431.4,392.9 431.2,392.1 431.3,391.3 431.9,390.5 432.4,390.2 433.2,390.0 434.4,390.1 435.0,390.5 435.6,391.2 435.8,392.1 435.5,392.9 435.2,393.3 434.4,393.9Z" fill="none" stroke="#000" stroke-width="0.55" stroke-linejoin="round"/></g>
<line x1="281.3" y1="228" x2="281.3" y2="373.5" stroke="#000" stroke-width="2.2" />
<polygon points="281.3,220.5 277.8,229.5 284.8,229.5" fill="#000"/>
<text transform="translate(285.4,396.4) rotate(-90)" font-size="11.8" font-weight="bold" text-anchor="middle">CD71</text>
<text x="298.7" y="428.6" font-size="11.5" font-weight="bold" font-style="normal" text-anchor="start" fill="#000" >FSC</text>
<line x1="322.8" y1="424.4" x2="505" y2="424.4" stroke="#000" stroke-width="2.2" />
<polygon points="513,424.4 504,420.9 504,427.9" fill="#000"/>
<clipPath id="c1"><rect x="304.2" y="462.6" width="92.3" height="74.9"/></clipPath>
<rect x="304.2" y="462.6" width="92.3" height="74.9" fill="none" stroke="#777" stroke-width="0.8" />
<rect x="372.6" y="468.3" width="23.9" height="55.1" fill="none" stroke="#666" stroke-width="0.8" />
<text x="300.7" y="470.1" font-size="5.6" text-anchor="end" fill="#555">10<tspan font-size="3.92" dy="-2.3">5</tspan></text>
<line x1="302.4" y1="468.1" x2="304.2" y2="468.1" stroke="#555" stroke-width="0.6" />
<text x="300.7" y="487.2" font-size="5.6" text-anchor="end" fill="#555">10<tspan font-size="3.92" dy="-2.3">4</tspan></text>
<line x1="302.4" y1="485.2" x2="304.2" y2="485.2" stroke="#555" stroke-width="0.6" />
<text x="300.7" y="504.6" font-size="5.6" text-anchor="end" fill="#555">10<tspan font-size="3.92" dy="-2.3">3</tspan></text>
<line x1="302.4" y1="502.6" x2="304.2" y2="502.6" stroke="#555" stroke-width="0.6" />
<text x="300.7" y="521.8" font-size="5.6" text-anchor="end" fill="#555">10<tspan font-size="3.92" dy="-2.3">2</tspan></text>
<line x1="302.4" y1="519.8" x2="304.2" y2="519.8" stroke="#555" stroke-width="0.6" />
<text x="300.2" y="530.6" font-size="5.6" text-anchor="end" fill="#555">0</text>
<line x1="302.4" y1="528.6" x2="304.2" y2="528.6" stroke="#555" stroke-width="0.6" />
<text x="314.5" y="546" font-size="5.6" text-anchor="middle" fill="#555">0</text>
<line x1="314.5" y1="537.5" x2="314.5" y2="539.3" stroke="#555" stroke-width="0.6" />
<text x="326.7" y="546" font-size="5.6" text-anchor="end" fill="#555">10<tspan font-size="3.92" dy="-2.3">2</tspan></text>
<line x1="322.7" y1="537.5" x2="322.7" y2="539.3" stroke="#555" stroke-width="0.6" />
<text x="348.6" y="546" font-size="5.6" text-anchor="end" fill="#555">10<tspan font-size="3.92" dy="-2.3">3</tspan></text>
<line x1="344.6" y1="537.5" x2="344.6" y2="539.3" stroke="#555" stroke-width="0.6" />
<text x="371" y="546" font-size="5.6" text-anchor="end" fill="#555">10<tspan font-size="3.92" dy="-2.3">4</tspan></text>
<line x1="367" y1="537.5" x2="367" y2="539.3" stroke="#555" stroke-width="0.6" />
<text x="391.3" y="546" font-size="5.6" text-anchor="end" fill="#555">10<tspan font-size="3.92" dy="-2.3">5</tspan></text>
<line x1="387.3" y1="537.5" x2="387.3" y2="539.3" stroke="#555" stroke-width="0.6" />
<line x1="304.2" y1="538.3" x2="388.5" y2="538.3" stroke="#444" stroke-width="1.2" stroke-dasharray="0.8,2.2"/>
<line x1="303.4" y1="468.6" x2="303.4" y2="537.5" stroke="#444" stroke-width="1.2" stroke-dasharray="0.8,2.6"/>
<clipPath id="c2"><rect x="418.8" y="463" width="93.6" height="74"/></clipPath>
<rect x="418.8" y="463" width="93.6" height="74" fill="none" stroke="#777" stroke-width="0.8" />
<rect x="486.5" y="468.8" width="25.5" height="54.4" fill="none" stroke="#666" stroke-width="0.8" />
<text x="415.3" y="470.5" font-size="5.6" text-anchor="end" fill="#555">10<tspan font-size="3.92" dy="-2.3">5</tspan></text>
<line x1="417" y1="468.5" x2="418.8" y2="468.5" stroke="#555" stroke-width="0.6" />
<text x="415.3" y="487.6" font-size="5.6" text-anchor="end" fill="#555">10<tspan font-size="3.92" dy="-2.3">4</tspan></text>
<line x1="417" y1="485.6" x2="418.8" y2="485.6" stroke="#555" stroke-width="0.6" />
<text x="415.3" y="505" font-size="5.6" text-anchor="end" fill="#555">10<tspan font-size="3.92" dy="-2.3">3</tspan></text>
<line x1="417" y1="503" x2="418.8" y2="503" stroke="#555" stroke-width="0.6" />
<text x="415.3" y="522.2" font-size="5.6" text-anchor="end" fill="#555">10<tspan font-size="3.92" dy="-2.3">2</tspan></text>
<line x1="417" y1="520.2" x2="418.8" y2="520.2" stroke="#555" stroke-width="0.6" />
<text x="414.8" y="531" font-size="5.6" text-anchor="end" fill="#555">0</text>
<line x1="417" y1="529" x2="418.8" y2="529" stroke="#555" stroke-width="0.6" />
<text x="429.1" y="545.5" font-size="5.6" text-anchor="middle" fill="#555">0</text>
<line x1="429.1" y1="537" x2="429.1" y2="538.8" stroke="#555" stroke-width="0.6" />
<text x="441.3" y="545.5" font-size="5.6" text-anchor="end" fill="#555">10<tspan font-size="3.92" dy="-2.3">2</tspan></text>
<line x1="437.3" y1="537" x2="437.3" y2="538.8" stroke="#555" stroke-width="0.6" />
<text x="463.2" y="545.5" font-size="5.6" text-anchor="end" fill="#555">10<tspan font-size="3.92" dy="-2.3">3</tspan></text>
<line x1="459.2" y1="537" x2="459.2" y2="538.8" stroke="#555" stroke-width="0.6" />
<text x="485.6" y="545.5" font-size="5.6" text-anchor="end" fill="#555">10<tspan font-size="3.92" dy="-2.3">4</tspan></text>
<line x1="481.6" y1="537" x2="481.6" y2="538.8" stroke="#555" stroke-width="0.6" />
<text x="505.9" y="545.5" font-size="5.6" text-anchor="end" fill="#555">10<tspan font-size="3.92" dy="-2.3">5</tspan></text>
<line x1="501.9" y1="537" x2="501.9" y2="538.8" stroke="#555" stroke-width="0.6" />
<line x1="418.8" y1="537.8" x2="504.4" y2="537.8" stroke="#444" stroke-width="1.2" stroke-dasharray="0.8,2.2"/>
<line x1="418" y1="469" x2="418" y2="537" stroke="#444" stroke-width="1.2" stroke-dasharray="0.8,2.6"/>
<clipPath id="c3"><rect x="301.2" y="574.6" width="91.2" height="75"/></clipPath>
<rect x="301.2" y="574.6" width="91.2" height="75" fill="none" stroke="#777" stroke-width="0.8" />
<rect x="363.5" y="580.8" width="25" height="55" fill="none" stroke="#666" stroke-width="0.8" />
<text x="297.7" y="582.1" font-size="5.6" text-anchor="end" fill="#555">10<tspan font-size="3.92" dy="-2.3">5</tspan></text>
<line x1="299.4" y1="580.1" x2="301.2" y2="580.1" stroke="#555" stroke-width="0.6" />
<text x="297.7" y="599.2" font-size="5.6" text-anchor="end" fill="#555">10<tspan font-size="3.92" dy="-2.3">4</tspan></text>
<line x1="299.4" y1="597.2" x2="301.2" y2="597.2" stroke="#555" stroke-width="0.6" />
<text x="297.7" y="616.6" font-size="5.6" text-anchor="end" fill="#555">10<tspan font-size="3.92" dy="-2.3">3</tspan></text>
<line x1="299.4" y1="614.6" x2="301.2" y2="614.6" stroke="#555" stroke-width="0.6" />
<text x="297.7" y="633.8" font-size="5.6" text-anchor="end" fill="#555">10<tspan font-size="3.92" dy="-2.3">2</tspan></text>
<line x1="299.4" y1="631.8" x2="301.2" y2="631.8" stroke="#555" stroke-width="0.6" />
<text x="297.2" y="642.6" font-size="5.6" text-anchor="end" fill="#555">0</text>
<line x1="299.4" y1="640.6" x2="301.2" y2="640.6" stroke="#555" stroke-width="0.6" />
<text x="311.5" y="658.1" font-size="5.6" text-anchor="middle" fill="#555">0</text>
<line x1="311.5" y1="649.6" x2="311.5" y2="651.4" stroke="#555" stroke-width="0.6" />
<text x="323.7" y="658.1" font-size="5.6" text-anchor="end" fill="#555">10<tspan font-size="3.92" dy="-2.3">2</tspan></text>
<line x1="319.7" y1="649.6" x2="319.7" y2="651.4" stroke="#555" stroke-width="0.6" />
<text x="345.6" y="658.1" font-size="5.6" text-anchor="end" fill="#555">10<tspan font-size="3.92" dy="-2.3">3</tspan></text>
<line x1="341.6" y1="649.6" x2="341.6" y2="651.4" stroke="#555" stroke-width="0.6" />
<text x="368" y="658.1" font-size="5.6" text-anchor="end" fill="#555">10<tspan font-size="3.92" dy="-2.3">4</tspan></text>
<line x1="364" y1="649.6" x2="364" y2="651.4" stroke="#555" stroke-width="0.6" />
<text x="388.3" y="658.1" font-size="5.6" text-anchor="end" fill="#555">10<tspan font-size="3.92" dy="-2.3">5</tspan></text>
<line x1="384.3" y1="649.6" x2="384.3" y2="651.4" stroke="#555" stroke-width="0.6" />
<line x1="301.2" y1="650.4" x2="384.4" y2="650.4" stroke="#444" stroke-width="1.2" stroke-dasharray="0.8,2.2"/>
<line x1="300.4" y1="580.6" x2="300.4" y2="649.6" stroke="#444" stroke-width="1.2" stroke-dasharray="0.8,2.6"/>
<clipPath id="c4"><rect x="419.6" y="574.6" width="92.8" height="75"/></clipPath>
<rect x="419.6" y="574.6" width="92.8" height="75" fill="none" stroke="#777" stroke-width="0.8" />
<rect x="482" y="580.8" width="25.3" height="55" fill="none" stroke="#666" stroke-width="0.8" />
<text x="416.1" y="582.1" font-size="5.6" text-anchor="end" fill="#555">10<tspan font-size="3.92" dy="-2.3">5</tspan></text>
<line x1="417.8" y1="580.1" x2="419.6" y2="580.1" stroke="#555" stroke-width="0.6" />
<text x="416.1" y="599.2" font-size="5.6" text-anchor="end" fill="#555">10<tspan font-size="3.92" dy="-2.3">4</tspan></text>
<line x1="417.8" y1="597.2" x2="419.6" y2="597.2" stroke="#555" stroke-width="0.6" />
<text x="416.1" y="616.6" font-size="5.6" text-anchor="end" fill="#555">10<tspan font-size="3.92" dy="-2.3">3</tspan></text>
<line x1="417.8" y1="614.6" x2="419.6" y2="614.6" stroke="#555" stroke-width="0.6" />
<text x="416.1" y="633.8" font-size="5.6" text-anchor="end" fill="#555">10<tspan font-size="3.92" dy="-2.3">2</tspan></text>
<line x1="417.8" y1="631.8" x2="419.6" y2="631.8" stroke="#555" stroke-width="0.6" />
<text x="415.6" y="642.6" font-size="5.6" text-anchor="end" fill="#555">0</text>
<line x1="417.8" y1="640.6" x2="419.6" y2="640.6" stroke="#555" stroke-width="0.6" />
<text x="429.9" y="658.1" font-size="5.6" text-anchor="middle" fill="#555">0</text>
<line x1="429.9" y1="649.6" x2="429.9" y2="651.4" stroke="#555" stroke-width="0.6" />
<text x="442.1" y="658.1" font-size="5.6" text-anchor="end" fill="#555">10<tspan font-size="3.92" dy="-2.3">2</tspan></text>
<line x1="438.1" y1="649.6" x2="438.1" y2="651.4" stroke="#555" stroke-width="0.6" />
<text x="464" y="658.1" font-size="5.6" text-anchor="end" fill="#555">10<tspan font-size="3.92" dy="-2.3">3</tspan></text>
<line x1="460" y1="649.6" x2="460" y2="651.4" stroke="#555" stroke-width="0.6" />
<text x="486.4" y="658.1" font-size="5.6" text-anchor="end" fill="#555">10<tspan font-size="3.92" dy="-2.3">4</tspan></text>
<line x1="482.4" y1="649.6" x2="482.4" y2="651.4" stroke="#555" stroke-width="0.6" />
<text x="506.7" y="658.1" font-size="5.6" text-anchor="end" fill="#555">10<tspan font-size="3.92" dy="-2.3">5</tspan></text>
<line x1="502.7" y1="649.6" x2="502.7" y2="651.4" stroke="#555" stroke-width="0.6" />
<line x1="419.6" y1="650.4" x2="504.4" y2="650.4" stroke="#444" stroke-width="1.2" stroke-dasharray="0.8,2.2"/>
<line x1="418.8" y1="580.6" x2="418.8" y2="649.6" stroke="#444" stroke-width="1.2" stroke-dasharray="0.8,2.6"/>
<text x="333.6" y="460.6" font-size="12" font-weight="bold" font-style="italic">Apc<tspan font-size="8" dy="-4.8">fl/+</tspan></text>
<text x="448.2" y="455.6" font-size="12" font-weight="bold" font-style="italic">Apc<tspan font-size="8" dy="-4.8">del/+</tspan></text>
<text x="312.3" y="572.4" font-size="12" font-weight="bold" font-style="italic">Egr1<tspan font-size="8" dy="-4.8">+/-</tspan><tspan dy="4.8">, Apc</tspan><tspan font-size="8" dy="-4.8">fl/+</tspan></text>
<text x="426.0" y="571.4" font-size="12" font-weight="bold" font-style="italic">Egr1<tspan font-size="8" dy="-4.8">+/-</tspan><tspan dy="4.8">, Apc</tspan><tspan font-size="8" dy="-4.8">del/+</tspan></text>
<text x="376" y="517.5" font-size="6.2" font-weight="bold" text-anchor="start" fill="#222" style="stroke:none">16.3</text>
<text x="493.5" y="517.3" font-size="6.2" font-weight="bold" text-anchor="start" fill="#222" style="stroke:none">4.93</text>
<text x="370.2" y="630" font-size="6.2" font-weight="bold" text-anchor="start" fill="#222" style="stroke:none">18.9</text>
<text x="489" y="630" font-size="6.2" font-weight="bold" text-anchor="start" fill="#222" style="stroke:none">2.53</text>
<g clip-path="url(#c1)"><path d="M307.0,505.1 306.6,505.0 306.3,504.6 306.7,500.2 305.9,491.8 306.5,485.0 307.0,484.6 307.3,485.0 308.0,491.4 307.1,499.8 307.4,504.6 307.0,505.1Z M347.4,494.6 346.2,494.8 344.6,494.7 339.8,493.5 338.8,493.0 336.1,491.0 333.8,490.2 332.2,490.1 327.8,490.7 321.0,490.6 320.2,490.2 319.8,489.8 319.6,489.0 319.6,488.2 320.4,487.0 321.8,486.4 332.6,486.9 339.4,486.3 344.6,486.7 349.0,486.5 353.4,486.7 357.8,486.5 364.6,486.9 371.4,486.9 372.6,487.1 373.0,487.4 373.4,488.2 373.4,488.6 373.0,489.3 371.8,489.8 361.0,489.8 352.1,490.6 350.2,491.4 349.8,491.8 348.8,493.8 347.4,494.6Z M381.0,501.5 380.2,501.3 379.0,500.6 377.7,499.0 377.2,497.8 377.0,496.6 377.1,495.4 377.3,494.6 378.5,493.0 380.7,491.8 383.4,491.4 385.5,491.8 385.4,492.1 383.4,492.4 382.2,492.9 381.0,494.0 380.1,495.4 379.6,497.0 379.6,498.2 380.1,499.8 381.2,501.4 381.0,501.5Z M385.8,492.2 385.6,492.2 385.9,492.2 385.8,492.2Z M389.0,494.9 389.0,494.6 389.0,494.9Z M387.4,501.9 386.2,502.1 385.7,501.8 387.0,500.6 388.4,498.6 389.1,497.0 389.4,495.2 389.8,496.1 390.2,497.7 390.0,499.8 389.6,500.6 389.0,501.2 387.4,501.9Z" fill="#000" fill-rule="evenodd" fill-opacity="0.35"/><path d="M340.2,488.6 339.4,488.9 338.4,488.6 338.8,488.2 339.4,488.2 339.8,488.2 340.2,488.6Z M378.6,496.2 378.3,495.8 378.5,495.0 378.9,494.2 379.4,493.9 379.4,494.4 378.6,496.2Z" fill="#fff" fill-rule="evenodd"/><path d="M379.0,494.7 379.0,494.6 379.0,494.7Z M378.6,495.4 378.6,495.3 378.6,495.4Z M378.6,495.9 378.6,495.0 379.0,494.3 379.1,494.6 378.6,495.9Z M340.2,489.0 338.6,489.0 337.9,488.6 338.1,488.2 338.6,488.1 340.2,488.1 340.8,488.6 340.2,489.0Z M378.6,496.4 378.2,496.4 378.4,495.0 379.0,494.0 379.4,493.7 379.6,493.8 378.6,496.4Z M341.8,489.4 340.2,489.7 338.6,489.6 337.1,489.0 336.7,488.6 336.7,488.2 337.8,487.7 339.8,487.6 341.3,487.8 343.1,488.6 343.2,489.0 341.8,489.4Z M378.6,497.5 378.2,497.6 378.0,496.6 378.1,495.0 379.0,493.7 379.8,493.2 380.2,493.2 379.1,495.8 378.6,497.5Z M344.6,491.8 343.8,491.7 342.2,490.8 339.4,490.5 337.8,490.0 335.8,489.0 335.4,488.6 335.4,488.2 335.8,487.8 336.9,487.4 339.4,487.2 345.0,487.9 349.4,487.6 350.5,487.8 351.4,488.2 351.4,488.6 350.6,489.0 347.4,489.8 346.4,490.2 344.6,491.8Z M325.0,489.0 321.8,489.1 321.1,488.6 321.1,488.2 321.3,487.8 321.8,487.5 323.0,487.4 326.3,487.8 327.4,488.2 327.3,488.6 325.0,489.0Z M356.6,488.3 356.0,488.2 357.0,488.2 356.6,488.3Z M307.0,494.2 306.6,493.5 306.5,491.8 306.6,490.1 307.0,489.5 307.4,491.8 307.0,494.2Z M378.6,499.0 378.2,498.5 377.8,497.4 377.7,496.2 377.9,495.0 378.3,494.2 379.0,493.4 380.2,492.7 381.0,492.5 381.0,493.0 379.3,495.8 379.0,497.0 378.9,498.6 378.6,499.0Z M388.2,500.7 388.2,500.2 389.0,499.0 389.4,499.4 389.2,499.8 388.6,500.6 388.2,500.7Z M346.2,493.5 345.4,493.7 344.2,493.6 340.6,492.5 337.3,490.6 333.0,488.8 331.8,488.8 329.9,489.4 328.2,489.7 321.8,489.9 321.0,489.6 320.6,489.3 320.3,488.2 320.8,487.4 321.8,486.9 326.2,487.1 332.2,488.0 336.3,487.0 339.4,486.7 344.6,487.2 349.0,487.0 353.0,487.3 357.8,487.1 363.0,487.7 368.2,487.9 371.0,487.7 371.9,487.8 372.3,488.2 372.2,488.6 371.0,488.8 362.2,488.8 357.0,489.4 351.8,489.7 349.4,490.3 348.0,491.0 347.6,491.4 347.0,493.0 346.2,493.5Z M307.0,496.6 306.6,496.0 306.2,491.8 306.6,488.2 307.0,487.1 307.4,488.8 307.7,491.4 307.4,494.5 307.0,496.6Z M379.4,500.3 378.6,499.7 377.7,498.2 377.4,496.6 377.6,495.0 378.2,493.8 379.4,492.7 380.6,492.2 382.2,491.9 382.5,492.2 380.6,494.0 379.5,496.2 379.2,497.8 379.6,499.8 379.6,500.2 379.4,500.3Z M387.4,501.4 387.2,501.4 387.2,501.0 387.4,500.6 389.4,497.7 389.6,497.8 389.8,498.0 389.8,499.0 389.4,500.2 388.6,501.0 387.4,501.4Z M307.0,505.1 306.6,505.0 306.3,504.6 306.6,499.8 305.9,491.8 306.5,485.0 307.0,484.6 307.4,485.0 308.0,491.4 307.2,499.8 307.4,504.6 307.0,505.1Z M347.4,494.6 346.2,494.8 344.6,494.7 339.8,493.5 338.8,493.0 336.0,491.0 333.8,490.2 332.2,490.2 327.8,490.7 321.0,490.6 320.2,490.2 319.8,489.8 319.5,489.0 319.6,488.2 320.4,487.0 321.8,486.4 332.6,486.9 339.4,486.3 344.6,486.7 349.0,486.5 353.4,486.7 357.8,486.5 364.6,486.9 371.4,486.8 372.6,487.1 373.0,487.4 373.4,488.2 373.4,488.6 373.0,489.3 371.8,489.8 361.0,489.8 352.2,490.6 350.3,491.4 349.8,492.0 348.9,493.8 347.4,494.6Z M381.0,501.5 380.2,501.3 379.0,500.6 377.7,499.0 377.2,497.8 377.0,496.6 377.1,495.4 377.3,494.6 378.5,493.0 380.7,491.8 383.4,491.3 385.6,491.8 385.8,492.1 386.2,492.2 383.8,492.3 382.2,492.9 381.0,494.0 380.2,495.3 379.7,496.6 379.6,498.2 380.1,499.8 381.3,501.4 381.0,501.5Z M389.0,495.1 389.0,494.5 389.2,495.0 389.0,495.1Z M387.8,501.8 386.2,502.1 385.7,501.8 387.0,500.5 388.4,498.6 389.1,497.0 389.2,495.4 389.4,495.1 390.2,497.4 390.1,499.4 389.4,500.8 387.8,501.8Z M307.4,505.2 306.6,505.4 306.1,505.0 306.0,504.6 306.2,499.8 305.6,491.8 306.1,485.0 306.3,484.6 307.0,484.2 307.6,484.6 307.7,485.0 308.4,491.0 307.7,498.6 307.7,504.6 307.4,505.2Z M347.0,495.8 344.2,495.6 339.4,494.4 338.0,493.8 335.0,492.0 333.4,491.6 328.2,491.9 322.6,491.9 319.0,491.7 316.6,491.8 316.0,491.4 316.3,491.0 317.8,490.2 319.6,487.0 320.6,486.3 321.8,486.0 332.2,486.3 339.4,485.9 344.6,486.1 358.2,486.0 365.8,486.3 371.0,486.2 372.2,486.3 373.0,486.6 373.5,487.0 374.1,487.8 374.2,488.6 373.8,489.7 373.0,490.4 372.2,490.7 370.2,490.9 366.2,491.1 360.2,490.9 356.1,491.4 354.5,491.8 353.8,492.2 352.6,493.8 351.4,494.6 349.4,495.4 347.0,495.8Z M385.8,502.6 383.4,502.7 381.1,502.2 379.4,501.3 377.9,499.8 376.8,497.8 376.4,495.4 376.8,494.2 378.4,492.6 379.8,491.8 381.4,491.3 384.2,491.0 385.8,491.3 386.9,491.8 388.2,492.7 389.3,493.8 389.9,495.0 390.5,497.0 390.6,498.6 390.2,500.2 389.7,501.0 388.7,501.8 385.8,502.6Z M385.2,501.4 386.6,500.5 387.8,499.0 388.6,497.4 388.7,496.2 388.1,494.6 387.0,493.4 385.4,492.7 383.8,492.7 382.2,493.3 381.0,494.6 380.2,496.3 380.0,498.2 380.5,499.8 381.8,501.0 383.4,501.6 385.2,501.4Z M307.4,505.6 306.6,505.7 306.2,505.5 305.7,504.6 305.8,499.4 305.4,491.8 305.8,485.0 306.2,484.2 307.0,483.9 307.7,484.2 308.0,484.6 308.6,489.1 309.3,491.0 308.6,493.2 308.2,495.4 308.0,499.0 308.0,504.6 307.9,505.0 307.4,505.6Z M385.8,503.0 383.0,503.1 381.4,502.7 380.2,502.2 378.1,500.6 375.8,497.4 375.0,496.9 373.4,496.4 369.0,496.5 363.8,495.5 359.8,494.4 349.4,496.6 345.4,496.7 343.0,496.2 339.0,495.2 335.4,493.9 333.4,493.5 329.0,493.3 315.4,493.4 311.0,492.5 309.9,491.8 309.6,491.4 309.6,491.0 310.3,490.2 311.4,489.6 315.8,489.1 317.0,488.8 319.7,486.2 320.6,485.7 321.8,485.5 333.0,485.7 339.0,485.4 344.6,485.6 358.2,485.5 372.2,485.7 373.8,486.4 374.8,487.8 374.9,489.4 373.9,491.8 374.2,492.3 375.0,492.4 377.0,492.3 381.4,490.9 384.2,490.7 385.4,490.9 387.0,491.5 388.2,492.2 389.4,493.4 390.3,495.0 390.8,496.6 390.9,499.0 390.5,500.6 390.0,501.4 389.0,502.1 385.8,503.0Z M385.2,501.0 386.2,500.4 387.4,499.0 388.2,497.5 388.3,496.2 387.9,495.0 386.9,493.8 385.8,493.2 384.2,493.0 382.9,493.4 381.9,494.2 380.6,496.8 380.4,498.2 380.7,499.4 381.8,500.6 383.4,501.2 385.2,501.0Z M307.4,505.8 306.6,505.9 306.2,505.8 305.7,505.4 305.4,504.6 305.5,499.0 305.1,490.6 305.6,484.6 305.8,484.2 306.6,483.7 307.4,483.7 308.1,484.2 308.4,485.0 308.6,487.0 309.0,488.1 309.4,488.4 311.8,487.9 316.2,487.8 317.4,487.3 319.8,485.5 321.8,485.0 333.0,485.1 339.0,485.0 358.2,485.0 372.2,485.2 373.8,485.7 374.9,486.6 375.6,487.8 376.2,490.2 377.0,490.8 379.0,491.0 382.2,490.4 384.2,490.4 386.2,490.8 387.8,491.6 389.1,492.6 390.1,493.8 390.8,495.4 391.2,497.4 391.2,500.2 390.7,501.4 390.2,502.0 388.2,502.8 385.8,503.3 383.8,503.5 381.8,503.2 379.8,502.3 378.5,501.4 375.8,498.9 372.6,498.2 366.6,497.7 361.4,496.8 357.8,497.1 353.8,497.0 349.0,497.6 345.8,497.6 343.0,497.2 336.2,495.3 333.8,494.9 327.7,494.6 316.2,494.5 311.4,494.1 309.4,493.7 309.0,494.0 308.6,495.0 308.4,496.6 308.3,504.6 308.0,505.4 307.4,505.8Z M385.2,500.6 386.3,499.8 387.4,498.3 387.9,497.4 388.0,496.2 387.5,495.0 386.6,494.0 385.4,493.5 384.2,493.4 383.1,493.8 382.7,494.2 382.1,496.2 381.1,497.8 381.0,498.6 381.5,499.8 382.5,500.6 383.8,500.9 385.2,500.6Z M307.0,506.2 306.2,506.1 305.8,505.8 305.4,505.4 305.2,504.6 305.2,498.2 304.6,491.4 305.3,484.6 305.8,483.8 306.2,483.5 307.0,483.4 307.8,483.6 308.4,484.2 309.0,486.6 309.4,487.0 309.8,487.1 311.8,486.8 316.2,486.8 317.0,486.5 319.8,484.9 321.8,484.5 333.4,484.6 358.2,484.5 372.6,484.7 374.2,485.3 375.3,486.2 376.0,487.0 377.0,489.1 377.8,489.8 379.8,490.2 384.6,490.1 387.0,490.8 388.6,491.8 389.9,493.0 390.8,494.6 391.3,496.2 391.8,499.4 391.8,500.6 391.6,501.4 391.0,502.3 390.2,502.9 389.0,503.2 385.8,503.6 383.4,503.7 382.2,503.6 380.2,502.9 376.2,500.2 370.2,499.3 365.8,498.9 361.8,498.4 358.2,498.5 353.8,498.2 349.4,498.5 346.2,498.5 343.0,498.1 336.6,496.4 333.8,495.9 316.2,495.4 309.8,494.9 309.4,494.9 309.0,495.4 308.7,497.0 308.5,505.0 307.8,505.9 307.0,506.2Z M385.2,500.2 386.0,499.4 387.4,497.4 387.6,496.2 387.4,495.4 386.8,494.6 386.2,494.2 385.0,493.8 384.0,494.2 383.4,496.6 381.8,499.0 382.1,499.8 383.0,500.3 384.2,500.5 385.2,500.2Z M304.2,490.0 304.6,488.5 305.1,484.2 305.8,483.4 306.6,483.1 307.4,483.1 308.2,483.5 308.8,484.2 309.4,485.9 309.8,486.0 316.2,485.9 319.8,484.4 321.8,484.0 358.2,483.9 372.2,484.1 373.8,484.5 375.0,485.1 376.2,486.2 377.4,487.9 378.2,488.7 380.6,489.4 385.8,490.0 387.8,490.9 389.0,491.7 390.3,493.0 391.2,494.6 392.4,499.4 392.5,500.6 392.2,501.8 391.7,502.6 391.0,503.3 390.2,503.7 389.0,503.9 383.4,504.0 381.4,503.7 380.2,503.2 376.6,501.3 369.4,500.3 362.2,499.7 358.2,499.7 353.8,499.4 349.4,499.5 346.2,499.4 342.6,498.9 336.5,497.4 333.8,496.9 309.8,495.9 309.3,496.2 308.9,497.4 308.8,505.0 308.3,505.8 307.8,506.2 306.6,506.5 305.4,505.8 304.9,504.6 304.9,497.8 304.6,494.4 304.2,492.7 M384.7,499.8 385.1,499.4 385.7,498.2 387.0,496.6 387.0,495.8 386.8,495.4 385.8,494.7 385.4,494.8 385.2,495.0 384.8,497.4 383.1,499.4 383.4,499.9 384.2,499.9 384.7,499.8Z M304.2,487.9 304.8,484.2 305.8,483.1 306.6,482.8 307.4,482.8 308.2,483.2 308.9,483.8 309.4,484.7 309.8,485.1 310.2,485.1 316.2,485.0 320.2,483.7 321.8,483.5 348.2,483.4 372.6,483.6 374.2,484.0 375.4,484.7 376.4,485.4 378.2,487.3 379.0,487.8 386.6,489.9 388.2,490.7 389.4,491.6 390.9,493.4 391.5,494.6 393.1,499.4 393.2,500.6 392.9,501.8 392.3,503.0 391.5,503.8 390.6,504.3 389.0,504.6 386.6,504.3 383.8,504.4 381.4,504.0 377.4,502.4 369.4,501.4 353.8,500.5 348.6,500.4 344.6,500.1 341.8,499.7 335.6,498.2 333.0,497.8 310.2,496.8 309.6,497.0 309.3,497.8 309.1,504.6 308.9,505.4 308.3,506.2 307.8,506.5 306.6,506.8 305.4,506.2 304.7,505.0 304.6,497.4 304.2,494.8 M304.2,485.9 304.4,484.6 305.0,483.4 305.8,482.8 307.0,482.5 308.2,482.8 309.8,484.1 315.0,484.3 316.6,484.2 319.8,483.2 321.8,482.9 334.2,483.0 347.4,482.8 373.0,483.1 375.4,483.9 379.0,486.6 383.4,488.1 387.4,489.9 389.4,491.2 390.7,492.6 391.7,494.2 392.6,496.8 393.6,498.6 393.9,500.6 393.4,502.6 392.2,504.2 390.6,505.1 389.0,505.3 385.8,504.7 382.2,504.5 378.2,503.4 369.7,502.6 345.0,501.1 333.0,498.8 310.2,497.8 309.8,497.9 309.4,499.4 309.2,505.4 308.7,506.2 307.8,506.9 306.6,507.0 305.4,506.5 304.7,505.8 304.4,505.0 304.2,496.6 M304.2,484.2 304.6,483.4 305.4,482.7 306.2,482.3 307.0,482.2 308.2,482.5 309.8,483.3 315.4,483.4 316.6,483.3 320.2,482.5 321.8,482.3 334.6,482.4 345.8,482.1 373.0,482.5 375.4,483.2 379.0,485.5 384.2,487.1 389.4,490.7 390.8,492.2 391.7,493.4 392.6,495.6 394.1,498.2 394.6,500.2 394.5,501.4 394.1,502.6 393.0,504.3 392.2,505.0 391.0,505.7 389.0,506.0 387.8,505.9 385.0,505.1 382.2,504.9 379.8,504.4 376.6,504.4 366.6,503.5 344.6,502.1 336.0,500.2 332.6,499.7 310.6,498.7 310.2,498.8 309.8,499.4 309.6,505.0 309.3,505.8 308.7,506.6 307.4,507.3 306.2,507.3 305.0,506.6 304.4,505.8 304.2,505.2 M304.2,483.4 305.4,482.3 306.2,481.9 307.0,481.9 309.4,482.4 315.8,482.5 321.4,481.8 336.9,481.8 344.6,481.4 372.2,481.9 373.8,482.0 375.8,482.7 379.0,484.4 384.2,485.8 386.6,487.2 390.2,490.9 391.6,492.6 393.0,495.3 394.7,497.8 395.1,499.0 395.3,500.2 394.9,502.6 393.7,504.6 391.8,506.1 389.4,506.7 387.4,506.5 384.1,505.4 381.0,505.3 377.0,505.5 366.8,504.6 345.0,503.2 342.6,502.8 335.2,501.0 332.6,500.6 313.8,499.6 310.6,499.7 310.2,499.9 309.9,505.0 309.7,505.8 309.1,506.6 308.2,507.3 307.0,507.6 306.2,507.5 305.0,506.9 304.2,506.0" fill="none" stroke="#000" stroke-width="0.55" stroke-linejoin="round"/></g>
<g clip-path="url(#c2)"><path d="M421.2,504.9 420.4,504.7 420.0,504.2 419.9,498.2 420.0,487.0 420.4,486.3 420.8,486.1 421.2,486.2 421.6,486.5 421.8,487.0 421.8,489.8 422.3,494.6 421.8,504.2 421.2,504.9Z M456.0,492.2 454.0,492.4 449.6,492.0 444.8,492.5 440.8,492.1 439.6,491.7 438.8,491.0 438.5,490.2 438.5,489.4 438.9,488.6 439.6,488.0 440.4,487.7 441.6,487.6 458.8,487.9 472.4,487.7 477.2,487.9 478.4,488.3 478.8,488.6 479.3,489.4 479.3,490.2 478.8,491.0 478.0,491.6 477.2,491.9 472.8,492.0 466.8,491.6 462.8,491.9 458.8,491.8 456.0,492.2Z" fill="#000" fill-rule="evenodd" fill-opacity="0.35"/><path d="M446.0,489.9 444.4,490.0 441.2,489.9 440.9,489.8 440.8,489.4 442.4,489.3 444.6,489.4 446.3,489.8 446.0,489.9Z M455.2,490.2 453.6,490.3 452.1,489.8 452.2,489.4 454.0,489.1 455.9,489.4 456.2,489.8 455.2,490.2Z M420.8,500.2 420.7,497.4 420.8,491.9 421.2,493.0 421.3,496.6 421.2,499.1 420.8,500.2Z" fill="#fff" fill-rule="evenodd"/><path d="M454.4,489.8 453.8,489.8 454.6,489.8 454.4,489.8Z M455.2,489.9 454.0,490.0 453.1,489.8 453.4,489.4 454.4,489.4 454.8,489.4 455.3,489.8 455.2,489.9Z M420.8,498.8 420.8,495.8 421.1,497.0 420.8,498.8Z M446.4,489.9 444.4,490.1 441.2,489.9 440.8,489.8 440.7,489.4 443.2,489.3 445.0,489.4 446.8,489.8 446.4,489.9Z M455.2,490.3 453.6,490.3 451.9,489.8 452.1,489.4 454.0,489.1 456.1,489.4 456.3,489.8 455.2,490.3Z M420.8,500.3 420.7,497.4 420.8,491.7 421.2,492.7 421.3,496.6 421.2,499.3 420.8,500.3Z M455.6,490.6 453.6,490.7 450.0,490.1 445.6,490.6 441.2,490.4 440.4,490.2 440.1,489.8 440.1,489.4 440.4,489.0 441.2,488.8 449.6,489.2 454.0,488.8 456.4,489.0 457.9,489.4 458.2,489.8 455.6,490.6Z M473.6,490.2 471.2,490.1 470.4,489.8 470.4,489.4 472.0,489.1 473.2,489.1 475.0,489.4 475.3,489.8 473.6,490.2Z M420.8,503.9 420.5,497.4 420.5,492.6 420.8,490.0 421.2,491.0 421.5,496.2 421.2,501.3 420.9,502.6 420.8,503.9Z M421.2,504.3 420.8,504.4 420.5,504.2 420.3,498.6 420.5,487.0 420.8,486.6 421.3,487.0 421.3,489.4 421.7,494.6 421.2,504.3Z M455.6,491.0 453.6,491.1 450.4,490.7 445.6,491.1 440.8,490.9 440.1,490.6 439.7,490.2 439.6,489.4 440.3,488.6 441.2,488.4 447.6,488.6 454.4,488.4 458.4,488.8 462.4,488.8 466.4,489.1 472.8,488.6 477.2,489.0 477.9,489.4 478.0,489.8 477.8,490.2 477.2,490.5 474.0,490.7 471.6,490.7 466.8,490.1 462.4,490.6 458.8,490.5 455.6,491.0Z M421.2,504.6 420.6,504.6 420.3,504.2 420.1,498.6 420.3,487.0 420.4,486.6 420.8,486.4 421.2,486.4 421.5,487.0 421.9,494.6 421.6,504.2 421.2,504.6Z M456.4,491.5 454.0,491.6 450.0,491.3 445.2,491.7 440.8,491.4 440.0,491.2 439.3,490.6 439.1,490.2 439.1,489.4 439.5,488.6 440.0,488.3 441.2,488.0 447.2,488.2 454.0,488.1 458.4,488.3 466.0,488.4 472.4,488.1 477.6,488.5 478.5,489.0 478.7,489.8 478.4,490.6 477.2,491.2 472.4,491.3 466.8,490.9 462.4,491.2 458.8,491.2 456.4,491.5Z M421.2,504.9 420.4,504.7 420.0,504.2 419.9,498.2 420.0,487.0 420.4,486.3 420.8,486.1 421.2,486.2 421.6,486.5 421.8,487.0 421.8,489.8 422.3,494.6 421.8,504.2 421.2,504.9Z M456.0,492.2 454.0,492.4 449.6,492.0 444.8,492.6 440.8,492.2 439.6,491.8 438.8,491.0 438.5,490.2 438.5,489.4 438.9,488.6 439.6,488.0 440.4,487.7 441.6,487.6 458.8,487.9 472.4,487.7 477.2,487.9 478.4,488.2 478.9,488.6 479.3,489.4 479.3,490.2 478.9,491.0 478.0,491.7 477.2,491.9 472.8,492.0 466.8,491.7 462.8,492.0 458.8,491.9 456.0,492.2Z M421.2,505.1 420.4,505.0 419.8,504.2 419.7,497.8 419.8,487.0 420.1,486.2 420.8,485.9 421.6,486.2 421.9,486.6 422.2,490.6 422.9,495.0 422.2,499.8 422.0,504.2 421.9,504.6 421.2,505.1Z M474.8,497.4 472.8,497.5 469.6,497.3 464.8,497.5 460.0,496.7 455.2,497.0 448.8,496.3 433.2,496.8 427.2,496.7 425.6,496.6 424.8,496.3 424.3,495.8 424.0,495.0 424.4,494.0 425.6,493.3 431.6,493.2 436.0,493.7 438.1,493.4 438.5,493.0 437.9,490.6 438.1,489.0 438.6,488.2 439.2,487.7 440.8,487.2 458.8,487.4 472.0,487.3 477.6,487.5 478.4,487.7 479.3,488.2 479.8,489.0 480.0,489.8 479.9,490.6 479.5,491.4 478.8,492.2 477.3,493.4 477.4,493.8 478.4,494.5 479.6,494.8 482.0,494.7 485.2,494.0 486.8,493.3 489.2,491.6 490.4,491.1 491.5,491.4 492.0,492.2 492.0,493.4 491.2,494.9 490.0,496.2 488.4,497.1 484.0,497.3 478.0,497.0 474.8,497.4Z M469.9,493.8 470.6,493.4 469.1,493.0 468.0,493.0 467.3,493.0 466.7,493.4 468.1,493.8 469.9,493.8Z M421.6,505.2 421.2,505.3 420.4,505.3 420.0,505.0 419.6,504.2 419.4,495.4 419.5,487.0 419.8,486.2 420.8,485.6 421.6,485.9 422.2,486.6 422.5,491.0 422.8,492.0 423.2,492.6 423.6,492.6 424.8,492.2 426.0,492.0 434.4,492.2 436.0,492.0 436.7,491.4 437.4,489.0 438.3,487.8 439.6,487.0 441.2,486.8 477.6,487.0 479.2,487.5 480.3,488.6 480.7,489.8 480.5,492.2 480.7,492.6 481.2,492.9 483.2,493.0 485.2,492.6 486.4,492.0 488.8,490.1 490.4,489.5 491.6,489.6 492.4,489.9 493.1,490.6 493.5,491.8 493.6,493.0 493.4,494.2 492.2,496.2 491.2,497.3 490.0,498.2 488.0,498.7 473.6,498.8 468.8,498.6 464.4,498.7 459.2,498.3 449.2,498.3 443.2,497.9 426.0,497.9 423.6,497.5 423.2,497.6 422.8,498.3 422.4,500.4 422.3,504.2 421.6,505.2Z M421.6,505.4 420.8,505.6 420.0,505.3 419.4,504.6 419.3,504.2 419.0,495.0 419.3,487.0 419.5,486.2 420.4,485.5 421.6,485.6 422.3,486.2 422.5,487.0 422.8,490.4 423.2,491.2 423.6,491.3 425.6,491.0 433.6,491.0 435.2,490.8 436.0,490.2 436.9,488.6 437.9,487.4 439.2,486.7 440.4,486.3 468.8,486.3 477.2,486.4 478.8,486.7 480.0,487.4 480.8,488.2 481.3,489.4 481.7,491.0 482.0,491.5 482.8,491.8 484.0,491.7 485.0,491.4 488.4,489.1 489.6,488.6 490.8,488.4 492.0,488.5 493.2,489.1 494.2,490.2 494.7,491.4 494.8,492.6 494.7,494.2 494.3,495.4 493.7,496.6 491.6,498.7 490.4,499.4 489.2,499.8 474.0,499.9 468.0,499.6 463.6,499.7 457.6,499.4 448.8,499.5 442.8,499.1 425.6,499.0 423.6,498.8 423.2,499.0 422.8,499.9 422.4,504.6 421.6,505.4Z M418.8,492.2 419.1,486.6 419.6,485.7 420.8,485.1 422.0,485.5 422.6,486.2 423.0,489.4 423.2,489.9 423.6,490.2 425.6,490.0 430.4,490.1 434.4,489.9 435.4,489.4 437.1,487.4 438.0,486.7 439.2,486.1 440.4,485.9 477.6,486.0 479.2,486.3 480.4,487.0 481.5,488.2 482.7,490.2 483.6,490.5 484.9,490.2 487.6,488.5 489.2,487.8 491.2,487.5 492.8,487.8 494.2,488.6 495.2,489.8 495.7,491.4 495.9,493.0 495.4,495.8 494.4,497.8 492.0,499.9 490.8,500.5 489.6,500.9 475.6,500.9 467.6,500.6 449.2,500.5 442.4,500.2 424.0,499.9 423.6,499.9 423.1,500.6 422.8,502.2 422.7,504.2 422.4,505.0 421.6,505.7 420.8,505.8 420.0,505.6 419.6,505.3 419.1,504.2 418.8,497.7 M418.8,488.3 418.9,486.2 419.6,485.4 420.8,484.9 422.0,485.2 422.6,485.8 423.0,486.6 423.2,488.4 423.6,489.1 424.0,489.2 425.6,489.0 430.4,489.1 434.0,489.0 435.2,488.4 436.8,486.9 438.0,486.1 439.2,485.6 440.4,485.4 477.6,485.5 478.8,485.7 480.4,486.3 481.7,487.4 482.8,488.7 483.6,489.2 484.8,489.1 487.6,487.5 489.6,486.8 491.6,486.7 493.6,487.2 495.1,488.2 496.1,489.4 496.7,491.0 496.9,493.0 496.5,496.2 496.1,497.4 495.3,498.6 494.0,499.9 492.4,501.0 491.2,501.5 489.6,501.9 449.2,501.5 424.0,500.9 423.6,501.0 423.2,501.8 423.0,504.2 422.7,505.0 422.0,505.8 420.8,506.1 419.6,505.6 419.1,505.0 418.8,504.2 418.8,501.8 M418.8,486.0 419.2,485.4 420.0,484.8 421.2,484.7 422.0,484.9 422.6,485.4 423.1,486.2 423.6,487.8 424.0,488.1 431.6,488.1 433.2,488.1 434.4,487.8 437.6,485.7 438.8,485.2 440.4,484.9 477.2,484.9 478.8,485.1 480.0,485.5 481.6,486.5 483.2,487.8 484.0,488.1 484.8,487.9 488.8,486.1 490.0,485.9 491.6,485.9 492.8,486.0 494.4,486.6 495.6,487.4 496.4,488.2 497.5,490.2 497.8,491.4 497.9,493.0 497.6,496.6 497.2,497.8 496.4,499.1 495.2,500.4 493.6,501.6 492.0,502.3 490.4,502.8 488.4,502.9 480.4,502.7 475.6,502.8 424.4,501.9 423.6,502.2 423.1,505.0 422.0,506.1 421.2,506.4 420.4,506.3 419.6,506.0 418.8,505.0 M418.8,485.4 419.6,484.7 420.4,484.4 421.2,484.4 422.0,484.6 422.8,485.2 424.0,487.0 432.0,487.2 434.0,487.0 438.0,484.9 440.4,484.3 477.2,484.4 478.4,484.5 480.0,484.9 483.2,486.8 484.0,487.1 484.8,486.9 488.8,485.2 490.4,485.0 492.0,485.1 494.0,485.5 495.2,486.1 496.4,486.9 497.2,487.8 497.8,488.6 498.5,490.2 498.9,493.4 498.7,497.0 498.3,498.2 497.3,499.8 496.0,501.2 494.4,502.4 492.8,503.1 490.8,503.7 488.4,503.9 480.4,503.6 475.2,503.7 424.4,502.9 424.0,503.0 423.8,503.4 423.1,505.4 422.0,506.4 421.2,506.6 420.0,506.5 418.8,505.5 M418.8,485.0 419.6,484.4 421.2,484.1 422.4,484.5 424.0,486.0 424.4,486.1 432.0,486.2 434.4,485.9 437.6,484.4 439.2,483.9 440.4,483.8 477.2,483.8 478.8,484.0 480.0,484.3 483.2,485.9 484.0,486.1 488.8,484.3 490.4,484.1 492.4,484.2 494.4,484.7 495.6,485.3 497.0,486.2 498.1,487.4 499.1,489.0 499.6,490.6 499.9,492.2 500.0,494.6 499.9,496.6 499.5,498.2 498.7,499.8 497.4,501.4 496.0,502.6 494.4,503.6 492.4,504.3 490.4,504.7 488.4,504.8 480.4,504.6 475.2,504.7 424.8,503.9 424.4,503.9 424.0,504.3 423.5,505.4 422.8,506.2 421.6,506.8 420.0,506.8 418.8,506.0 M418.8,484.6 420.0,483.9 421.2,483.8 422.0,484.0 423.6,484.9 424.4,485.2 432.4,485.2 434.3,485.0 438.0,483.6 440.4,483.2 477.2,483.3 479.6,483.6 483.1,485.0 484.0,485.1 488.4,483.5 490.4,483.3 492.4,483.4 494.0,483.7 496.0,484.5 497.6,485.5 499.0,487.0 500.2,489.0 500.7,490.6 501.1,492.6 501.2,495.4 501.1,497.4 500.6,499.0 499.6,500.6 498.2,502.2 496.8,503.4 495.2,504.3 492.8,505.2 490.8,505.6 488.4,505.8 480.4,505.6 475.2,505.7 452.0,505.2 442.4,505.2 430.8,504.9 424.8,504.9 424.0,505.3 422.8,506.6 421.6,507.1 420.4,507.1 419.6,506.9 418.8,506.4" fill="none" stroke="#000" stroke-width="0.55" stroke-linejoin="round"/></g>
<g clip-path="url(#c3)"><path d="M304.4,613.6 304.0,613.3 303.6,608.6 303.6,603.9 303.8,598.6 304.0,598.2 304.4,598.2 304.6,598.6 304.6,601.4 304.9,605.4 304.9,610.2 304.4,613.6Z M340.8,613.4 338.8,613.6 336.8,613.5 332.0,612.3 329.6,611.4 328.0,610.4 326.7,609.0 326.3,607.8 326.5,606.6 328.1,604.6 330.0,603.4 333.2,602.5 334.8,602.4 335.9,602.6 333.6,604.1 332.1,605.4 331.3,606.6 331.2,607.4 331.5,608.2 331.9,609.0 333.6,610.8 334.8,611.6 336.4,611.9 340.0,611.6 342.0,611.2 343.2,610.7 344.3,609.8 344.9,608.6 345.2,607.0 344.9,605.4 343.9,603.4 344.4,603.0 345.6,603.1 347.2,603.8 349.6,605.5 351.0,607.0 351.4,607.8 351.4,608.6 351.1,609.4 350.4,610.0 348.8,610.7 340.8,613.4Z M376.8,615.8 375.6,616.0 372.0,615.8 370.5,615.4 369.3,614.6 368.2,613.0 367.8,611.4 368.2,609.4 369.0,608.2 370.0,607.5 371.2,606.9 373.2,606.4 374.8,606.3 376.4,606.5 377.6,606.9 378.8,607.5 379.6,608.2 380.2,609.0 380.7,610.2 380.8,611.4 380.6,612.6 380.0,613.7 379.2,614.5 376.8,615.8Z M376.0,615.4 377.6,614.7 378.7,613.4 379.0,611.8 378.5,610.2 377.2,608.7 375.6,608.0 373.6,607.9 372.0,608.5 371.0,609.4 370.2,610.6 370.0,611.8 370.6,613.4 371.6,614.6 373.2,615.7 374.8,615.7 376.0,615.4Z" fill="#000" fill-rule="evenodd" fill-opacity="0.4"/><path d="M369.2,610.7 369.0,610.2 369.2,609.5 369.9,608.6 370.4,608.4 370.5,608.6 369.3,610.2 369.2,610.7Z" fill="#fff" fill-rule="evenodd"/><path d="M369.6,609.7 369.4,609.4 370.0,608.7 370.1,609.0 369.6,609.7Z M369.2,610.4 369.2,609.7 369.4,609.8 369.2,610.4Z M368.8,612.0 368.8,610.6 369.2,609.4 370.0,608.4 370.8,608.1 370.9,608.2 369.5,610.2 369.2,611.8 368.8,612.0Z M369.2,613.1 369.0,612.2 369.2,611.8 369.2,613.1Z M348.8,609.1 348.0,609.3 347.3,609.0 347.2,607.8 347.6,607.2 347.9,607.0 348.8,607.2 349.3,607.8 349.3,608.6 348.8,609.1Z M376.8,607.6 376.2,607.4 377.2,607.4 376.8,607.6Z M370.0,614.3 369.2,613.6 368.8,612.8 368.5,611.4 368.6,610.2 368.9,609.4 369.6,608.5 370.7,607.8 371.6,607.6 371.9,607.8 370.2,609.4 369.4,611.0 369.4,612.2 370.3,614.2 370.0,614.3Z M379.6,610.5 378.5,609.0 377.0,607.8 377.2,607.4 378.1,607.8 379.2,608.7 379.8,609.8 379.9,610.2 379.6,610.5Z M330.8,610.6 329.0,609.8 328.2,609.0 327.8,608.2 327.7,607.4 328.0,606.6 328.8,605.7 329.6,605.2 329.9,605.4 329.7,606.6 329.8,607.8 331.0,610.2 330.8,610.6Z M348.4,609.9 346.8,610.1 346.3,609.8 346.4,607.8 346.8,606.3 347.2,605.8 348.0,605.8 348.8,606.3 349.7,607.0 350.1,607.8 350.1,608.6 349.9,609.0 349.5,609.4 348.4,609.9Z M370.8,615.0 370.0,614.7 369.2,613.9 368.6,613.0 368.3,611.8 368.3,610.6 368.7,609.4 369.2,608.6 370.0,607.9 371.0,607.4 372.5,607.0 375.6,606.8 376.8,607.0 377.8,607.4 379.0,608.2 379.7,609.0 380.1,609.8 380.4,611.0 380.0,612.5 379.6,612.3 379.4,611.0 378.8,609.8 378.0,608.8 376.8,608.0 375.6,607.6 374.4,607.4 373.2,607.5 372.0,608.0 370.5,609.4 369.7,611.0 369.8,612.6 370.9,614.6 371.0,615.0 370.8,615.0Z M304.4,611.7 304.0,611.4 303.8,609.4 304.0,602.4 304.4,602.7 304.6,605.0 304.6,609.4 304.4,611.7Z M333.6,612.0 332.8,612.0 331.6,611.8 329.2,610.8 327.9,609.8 326.9,608.2 326.9,607.0 327.6,605.7 329.3,604.2 331.0,603.4 332.4,603.1 333.3,603.4 331.1,605.8 330.8,606.6 330.7,607.4 331.1,608.6 333.5,611.4 333.8,611.8 333.6,612.0Z M340.8,613.0 339.2,613.3 338.0,613.3 336.7,613.0 336.4,612.6 338.0,612.2 342.8,611.6 343.6,611.3 344.4,610.6 345.2,609.3 345.7,607.4 345.7,605.8 345.2,604.2 345.3,603.8 346.0,603.8 347.6,604.6 349.4,605.8 350.5,607.0 350.9,607.8 350.9,608.6 350.5,609.4 350.0,609.8 348.1,610.6 344.4,611.6 340.8,613.0Z M372.0,615.5 371.2,615.5 370.0,615.0 369.1,614.2 368.4,613.0 368.0,611.4 368.1,610.2 368.6,609.0 369.2,608.3 370.4,607.4 371.6,607.0 374.8,606.5 376.0,606.6 377.5,607.0 379.4,608.2 380.4,609.8 380.7,611.4 380.4,612.6 380.0,613.3 378.8,614.4 378.6,614.2 379.2,612.2 379.1,611.0 378.4,609.7 377.2,608.5 375.6,607.9 374.0,607.7 372.4,608.1 371.2,609.0 370.1,610.6 369.9,612.2 370.4,613.4 372.0,615.5Z M304.4,617.2 303.9,617.0 304.0,615.0 303.6,611.0 303.4,607.0 303.6,598.6 304.0,598.0 304.4,598.0 304.7,598.6 305.1,608.2 304.4,617.2Z M339.2,613.8 337.2,613.8 333.7,613.0 330.8,612.1 328.4,611.0 326.9,609.8 326.1,608.6 325.9,607.4 326.3,606.2 328.4,604.1 329.6,603.3 331.2,602.7 333.4,602.2 335.6,602.0 337.6,602.0 339.0,602.2 338.9,602.6 336.0,603.2 334.4,603.9 332.5,605.4 331.8,606.6 331.7,607.4 331.9,608.2 333.0,609.8 334.8,611.2 336.4,611.6 338.8,611.5 341.5,611.0 342.8,610.5 344.0,609.5 344.6,608.2 344.8,606.6 344.4,605.2 343.0,603.4 343.0,603.0 343.6,602.7 345.2,602.7 347.0,603.4 349.6,605.1 351.4,607.0 351.8,608.2 351.7,609.0 351.2,609.7 350.5,610.2 343.1,613.0 341.2,613.5 339.2,613.8Z M375.6,616.2 373.8,616.2 371.2,615.8 370.0,615.2 368.8,614.1 367.9,612.2 367.7,610.6 368.2,609.0 369.3,607.8 370.4,607.1 372.0,606.6 375.2,606.2 376.8,606.5 378.0,606.9 379.2,607.7 380.1,608.6 380.7,609.8 380.9,611.0 380.8,612.2 380.4,613.3 379.6,614.3 378.1,615.4 377.2,615.8 375.6,616.2Z M375.3,615.4 377.2,614.7 378.3,613.8 378.8,612.6 378.7,611.0 378.0,609.6 376.8,608.6 375.2,608.1 373.2,608.1 372.0,608.7 370.8,609.8 370.2,611.0 370.3,612.6 371.2,614.1 372.4,615.0 374.0,615.6 375.3,615.4Z M304.8,617.5 304.4,617.8 304.0,617.7 303.6,617.4 303.5,617.0 303.1,608.6 303.3,598.6 303.6,597.9 304.0,597.6 304.7,597.8 305.0,598.2 305.5,605.8 305.4,609.4 305.0,614.2 305.0,617.0 304.8,617.5Z M339.6,614.2 337.2,614.2 334.8,613.8 331.6,612.9 328.7,611.8 327.2,610.9 325.6,609.4 324.7,608.2 324.5,607.4 324.6,607.0 325.1,606.2 326.8,604.6 328.3,603.4 329.6,602.8 333.6,601.6 338.0,601.2 344.8,602.0 346.7,602.6 348.8,603.7 350.5,605.0 351.8,606.2 352.7,607.4 353.0,608.6 352.7,609.4 352.0,610.1 351.2,610.6 343.5,613.4 339.6,614.2Z M339.8,610.6 341.9,609.8 342.8,609.0 343.3,608.2 343.6,607.4 343.7,606.2 343.2,605.2 342.4,604.3 341.6,603.9 340.4,603.6 337.2,603.8 334.8,604.6 333.4,605.8 332.8,607.0 332.9,607.8 333.5,609.0 334.6,610.2 335.6,610.7 336.8,611.0 339.8,610.6Z M376.8,616.3 374.8,616.6 372.4,616.3 370.8,615.9 369.2,614.9 368.0,613.4 367.3,611.4 367.4,609.4 368.0,608.2 369.1,607.4 370.4,606.8 372.8,606.1 374.4,605.9 376.0,606.0 377.6,606.4 379.6,607.6 380.5,608.6 381.0,609.8 381.3,611.4 381.0,612.6 380.4,613.8 379.6,614.7 378.4,615.6 376.8,616.3Z M375.7,615.0 377.2,614.3 378.1,613.4 378.5,612.2 378.3,611.0 377.3,609.4 376.0,608.6 374.4,608.3 372.8,608.6 371.6,609.4 370.8,610.4 370.5,611.8 370.8,613.0 371.6,614.1 372.8,614.9 374.0,615.2 375.7,615.0Z M304.8,617.9 304.0,618.1 303.6,617.9 303.2,617.4 302.8,607.8 303.0,598.6 303.3,597.8 304.0,597.4 304.8,597.5 305.3,598.2 305.5,601.8 306.1,607.0 305.4,613.0 305.3,617.0 305.2,617.4 304.8,617.9Z M339.6,614.6 336.0,614.5 332.0,613.5 328.0,612.1 324.0,609.6 322.8,609.2 320.0,609.2 316.8,608.5 313.6,609.7 312.0,609.7 310.9,609.4 309.5,608.6 308.8,607.8 308.8,607.4 309.0,607.0 309.6,606.7 312.0,606.2 314.0,606.2 316.8,606.7 320.4,605.4 323.6,605.4 324.8,605.0 328.4,602.7 330.4,601.9 334.0,601.1 338.0,600.7 344.8,601.5 347.2,602.3 351.2,604.6 355.9,608.6 355.9,609.0 355.7,609.4 354.6,610.2 353.7,610.6 343.6,613.9 339.6,614.6Z M337.3,609.8 337.8,609.4 337.7,609.0 337.1,607.8 337.0,607.4 337.3,607.0 338.3,606.6 341.2,606.2 341.6,605.8 341.5,605.4 341.1,605.0 340.0,604.6 338.3,604.6 336.7,605.0 335.5,605.8 335.2,606.6 335.5,609.0 335.7,609.4 336.4,609.8 337.3,609.8Z M376.4,616.6 375.2,616.8 373.6,616.8 371.6,616.4 370.4,616.0 369.2,615.2 368.2,614.2 366.4,610.9 364.0,610.4 362.5,609.8 360.1,608.6 359.6,608.2 359.5,607.8 359.8,607.4 361.0,606.6 362.4,606.1 364.4,605.7 366.4,605.8 369.2,606.4 373.6,605.7 375.2,605.6 377.2,605.9 378.8,606.5 380.0,607.4 381.1,609.0 381.6,610.6 381.5,612.2 380.8,613.8 379.7,615.0 378.0,616.1 376.4,616.6Z M376.1,614.6 377.4,613.8 377.9,613.0 378.0,611.8 377.6,610.9 376.1,609.4 375.2,609.0 373.4,609.0 372.0,609.8 371.2,610.8 370.9,611.8 371.1,613.0 371.6,613.7 372.4,614.3 373.6,614.8 374.8,614.9 376.1,614.6Z M304.8,618.3 304.0,618.4 303.6,618.2 302.9,617.4 302.4,607.4 302.8,598.2 303.2,597.5 304.0,597.1 304.8,597.2 305.5,597.8 306.0,602.8 306.4,603.8 306.8,604.1 310.8,604.3 314.4,604.0 317.2,604.2 321.2,603.6 324.4,603.7 328.8,601.9 332.4,600.9 336.0,600.3 339.2,600.3 346.0,601.3 348.8,602.4 354.0,605.1 355.6,605.6 357.2,605.5 362.0,604.6 364.4,604.4 367.6,604.7 371.2,605.3 375.2,605.1 378.8,605.4 380.0,605.9 380.8,606.8 381.5,608.2 382.0,609.8 382.0,611.4 381.8,612.6 381.4,613.4 380.5,614.6 379.2,615.7 378.0,616.4 376.4,616.9 374.8,617.1 372.0,616.8 370.0,616.0 368.6,615.0 366.8,612.9 366.0,612.3 359.6,611.3 351.2,612.2 343.2,614.5 340.8,614.9 338.0,615.1 335.6,614.9 333.2,614.4 329.2,613.1 323.2,610.9 317.6,610.6 313.2,611.2 306.8,610.2 306.4,610.5 306.0,611.8 305.7,614.2 305.5,617.4 304.8,618.3Z M376.1,614.2 376.8,613.8 377.3,613.0 377.2,612.4 376.8,612.2 373.2,611.6 372.0,611.8 371.7,612.2 371.6,612.7 371.9,613.4 372.8,614.2 374.4,614.6 376.1,614.2Z M304.4,618.7 303.2,618.3 302.6,617.4 302.4,611.8 301.8,607.0 302.5,598.2 303.2,597.1 304.0,596.8 305.2,597.1 305.8,597.8 306.0,600.3 306.3,601.8 306.8,602.5 307.2,602.6 314.4,602.4 318.0,602.6 322.0,602.2 325.2,602.2 333.2,600.3 336.4,599.9 339.2,599.9 346.0,600.8 352.4,603.2 355.2,603.8 357.2,603.9 363.6,603.4 372.0,604.0 379.6,604.1 380.8,604.5 381.8,605.4 382.6,606.6 383.1,608.2 383.0,609.8 382.6,611.8 382.1,613.0 381.3,614.2 379.2,616.0 377.6,616.8 376.0,617.2 373.6,617.3 371.2,616.8 369.6,616.1 366.8,614.0 366.0,613.7 361.6,613.3 358.8,612.9 350.8,613.1 342.0,615.2 337.6,615.5 334.4,615.1 326.4,612.9 323.2,612.3 318.4,612.0 313.6,612.4 307.2,611.8 306.8,611.8 306.4,612.3 306.2,613.0 305.8,617.4 305.2,618.4 304.4,618.7Z M375.4,613.8 374.9,613.4 373.2,613.4 373.3,613.8 374.0,614.0 375.4,613.8Z M301.2,604.9 302.0,601.4 302.4,597.8 303.2,596.8 304.4,596.5 305.2,596.8 305.9,597.4 306.2,598.2 306.4,600.2 306.8,601.0 307.2,601.2 313.6,601.0 318.8,601.3 322.8,601.0 326.3,601.0 334.4,599.6 338.0,599.4 345.2,600.1 350.9,601.8 354.0,602.3 363.2,602.3 379.6,602.9 381.6,603.5 383.0,604.6 384.3,606.6 384.6,608.6 384.4,610.2 383.9,611.8 383.1,613.0 382.1,614.2 380.4,615.6 379.2,616.4 377.2,617.2 375.6,617.5 374.0,617.6 371.6,617.2 369.6,616.5 367.2,615.2 366.0,614.9 364.0,614.6 360.8,614.6 358.0,614.2 350.0,614.2 342.0,615.6 337.6,615.9 334.4,615.6 328.5,614.2 326.0,613.8 318.8,613.2 313.6,613.5 307.6,613.1 306.8,613.3 306.4,614.0 306.0,617.8 305.2,618.7 304.4,618.9 303.2,618.6 302.5,617.8 302.0,611.7 301.2,608.7 M301.2,602.1 301.6,601.1 302.0,598.2 302.2,597.4 303.2,596.5 304.4,596.3 305.2,596.5 305.9,597.0 306.6,598.2 306.8,599.4 307.2,599.8 307.6,599.9 312.8,599.8 319.2,600.1 327.6,599.9 334.4,599.1 338.0,598.9 345.2,599.5 349.6,600.6 352.8,601.1 371.6,601.4 379.2,601.8 382.0,602.4 384.1,603.8 385.5,605.8 385.9,607.0 386.1,609.0 386.0,610.6 385.6,611.8 384.6,613.4 383.6,614.5 382.4,615.2 378.4,617.1 376.8,617.6 374.8,617.8 372.4,617.7 368.4,616.5 364.0,615.8 360.8,615.9 357.2,615.4 353.6,615.5 349.2,615.3 340.8,616.3 337.2,616.4 334.0,616.1 327.6,614.9 322.8,614.9 318.4,614.4 313.2,614.6 307.6,614.3 307.2,614.4 306.8,614.7 306.4,617.4 306.1,618.2 305.2,619.0 304.0,619.2 302.8,618.7 302.2,617.8 301.9,613.8 301.6,612.2 301.2,611.3 M301.2,600.3 301.7,597.8 302.2,597.0 302.8,596.4 303.6,596.0 304.4,595.9 305.6,596.3 306.3,597.0 307.2,598.4 308.0,598.6 312.8,598.6 320.0,599.0 329.6,598.9 338.0,598.4 344.8,598.9 352.4,599.9 357.6,599.9 366.4,600.3 371.6,600.3 378.8,600.5 380.8,600.8 382.8,601.5 384.4,602.4 385.5,603.4 386.4,604.6 386.9,605.8 387.5,607.8 387.7,609.8 387.4,611.4 386.6,613.0 385.4,614.6 384.0,615.7 381.6,616.8 376.8,618.0 375.6,618.1 373.2,618.1 369.6,617.5 367.2,617.4 364.4,617.0 360.4,617.1 356.8,616.6 353.6,616.7 347.2,616.5 336.8,617.0 328.4,616.0 323.6,616.1 318.4,615.6 312.0,615.7 308.0,615.5 307.2,615.6 306.8,616.6 306.6,617.8 306.0,618.8 305.2,619.3 304.0,619.5 302.8,619.0 301.9,617.8 301.6,614.4 301.2,613.1 M301.2,598.5 301.8,597.0 302.4,596.3 303.2,595.9 304.4,595.6 305.6,596.0 307.2,597.2 308.0,597.4 322.4,597.8 337.6,597.8 352.4,598.8 378.8,599.3 380.8,599.6 383.2,600.4 384.8,601.2 386.4,602.6 387.4,603.8 388.2,605.4 388.9,607.8 389.2,609.8 388.9,611.4 388.1,613.0 386.7,615.0 385.2,616.4 383.6,617.3 382.0,617.9 377.6,618.6 367.6,618.5 364.0,618.1 360.0,618.2 356.4,617.8 342.4,617.6 336.4,617.7 329.6,617.1 323.2,617.2 318.4,616.9 308.0,616.6 307.6,616.7 307.3,617.0 306.6,618.6 306.0,619.2 305.2,619.7 304.0,619.8 302.8,619.4 301.7,618.2 301.4,617.4 301.2,614.9 M301.2,597.3 302.4,595.9 303.2,595.5 304.4,595.3 305.6,595.6 307.2,596.2 309.2,596.3 328.8,596.7 342.0,597.3 347.2,597.3 363.2,597.9 370.8,597.9 379.2,598.1 382.0,598.7 384.4,599.6 386.0,600.5 387.5,601.8 388.7,603.4 389.5,605.0 390.3,607.8 390.6,609.8 390.4,611.4 389.4,613.4 388.0,615.4 386.4,617.0 384.8,618.1 383.2,618.8 381.6,619.2 378.4,619.7 367.2,619.6 363.6,619.3 356.0,619.0 336.8,618.7 330.0,618.3 322.8,618.3 308.4,617.8 307.6,617.9 306.0,619.6 305.2,620.0 304.0,620.1 302.8,619.7 302.0,619.1 301.3,618.2 301.2,617.6" fill="none" stroke="#000" stroke-width="0.55" stroke-linejoin="round"/></g>
<g clip-path="url(#c4)"><path d="M468.8,613.5 466.8,613.8 461.2,613.5 459.2,613.3 457.6,612.8 452.8,610.7 451.5,609.8 450.7,609.0 450.1,607.8 449.9,607.0 450.0,606.2 450.6,605.4 451.5,604.6 456.1,601.8 458.8,600.8 462.0,600.4 465.6,600.5 471.6,601.3 473.2,601.6 474.6,602.2 475.9,603.0 478.7,605.4 479.1,606.2 479.1,607.4 478.4,608.6 477.5,609.4 475.6,610.6 471.6,611.9 468.8,613.5Z M422.4,614.9 422.0,614.9 421.7,614.6 421.5,610.2 421.5,605.0 422.0,601.2 422.4,601.4 423.2,607.0 422.8,613.5 422.7,614.6 422.4,614.9Z M465.9,611.0 469.2,610.1 470.4,609.4 470.6,609.0 470.7,608.2 470.0,606.6 470.0,604.6 469.2,603.4 468.0,602.8 466.0,602.5 464.0,602.6 462.0,603.4 461.0,604.2 460.4,605.5 459.2,606.2 458.5,607.0 458.3,608.2 459.1,609.4 461.2,610.6 463.6,611.2 465.9,611.0Z M466.4,607.0 465.1,607.0 462.6,606.6 461.6,606.2 461.2,605.8 462.4,605.6 466.0,605.7 466.7,605.8 467.5,606.2 467.5,606.6 466.4,607.0Z" fill="#000" fill-rule="evenodd" fill-opacity="0.3"/><path d="M475.2,607.9 474.8,607.9 474.4,607.5 474.0,606.6 473.4,604.6 473.6,604.1 474.0,604.1 474.6,604.6 475.8,606.2 475.9,607.0 475.8,607.4 475.2,607.9Z M454.4,609.0 453.6,608.7 453.3,608.2 453.3,607.8 453.6,607.4 454.0,607.5 454.4,607.9 454.6,608.6 454.4,609.0Z" fill="#fff" fill-rule="evenodd"/><path d="M474.8,606.6 474.4,605.9 474.4,605.3 474.8,605.7 475.0,606.2 474.8,606.6Z M475.2,607.5 474.7,607.4 474.0,606.0 473.7,604.6 474.0,604.4 474.8,605.0 475.5,606.2 475.6,607.0 475.2,607.5Z M454.0,608.6 453.6,608.2 454.0,608.0 454.2,608.2 454.0,608.6Z M475.2,608.4 474.4,608.2 474.0,607.6 473.1,604.6 473.0,603.8 473.2,603.6 474.0,603.7 474.6,604.2 476.1,606.2 476.2,607.4 476.0,607.8 475.2,608.4Z M454.8,609.4 454.0,609.3 453.1,608.6 452.9,607.8 453.2,607.0 453.6,606.8 454.0,606.9 454.5,607.4 455.2,609.0 454.8,609.4Z M475.2,609.1 474.0,609.1 473.6,608.6 472.2,603.8 472.1,603.4 472.4,602.9 473.2,602.9 474.4,603.4 475.7,604.6 476.9,606.2 477.0,607.0 476.8,607.8 476.1,608.6 475.2,609.1Z M455.6,610.2 454.0,609.8 453.2,609.4 452.5,608.6 452.2,607.8 452.3,607.0 452.7,606.2 453.2,605.9 454.0,605.7 454.4,605.9 454.8,606.4 456.2,609.8 456.0,610.1 455.6,610.2Z M458.8,611.6 456.0,611.0 452.9,609.8 452.0,609.0 451.6,608.2 451.4,607.4 451.5,606.6 452.4,605.4 454.8,604.0 457.2,602.2 459.6,601.4 460.8,601.2 462.0,601.3 462.2,601.4 462.2,601.8 457.1,604.2 456.4,604.7 455.9,605.4 455.9,606.6 456.4,608.2 457.6,610.0 459.2,611.4 458.8,611.6Z M474.8,609.9 473.6,610.0 473.0,609.8 472.8,609.4 471.9,605.0 471.1,603.0 471.0,602.6 471.6,602.2 472.8,602.3 474.6,603.0 476.5,604.6 477.7,606.2 477.7,607.4 477.3,608.2 476.4,609.1 474.8,609.9Z M422.4,611.4 422.0,610.9 421.9,608.6 422.0,605.9 422.4,605.3 422.6,607.8 422.4,611.4Z M468.4,613.1 466.8,613.3 460.8,613.0 458.8,612.7 457.2,612.1 453.2,610.5 451.6,609.4 450.6,607.8 450.5,607.0 450.7,606.2 451.2,605.4 452.2,604.6 456.0,602.2 458.0,601.3 460.0,600.8 462.0,600.6 465.4,601.0 466.7,601.4 466.0,601.7 463.2,602.3 460.0,603.8 457.9,605.4 457.3,606.6 457.3,607.4 457.7,608.6 458.8,609.9 460.0,610.6 461.6,611.2 463.2,611.6 464.4,611.7 470.4,610.6 470.8,610.4 471.3,609.8 471.5,609.0 471.5,608.2 470.8,604.6 470.1,603.4 468.6,601.8 471.2,601.5 473.6,602.0 475.6,603.1 478.1,605.4 478.6,606.2 478.6,607.4 478.2,608.2 477.2,609.2 474.8,610.5 471.2,611.3 469.5,612.6 468.4,613.1Z M422.4,614.6 422.0,614.6 421.6,610.2 421.6,606.2 422.0,602.9 422.4,603.0 423.0,607.0 422.8,611.3 422.4,614.6Z M422.4,615.1 422.0,615.1 421.6,614.6 421.4,610.2 421.4,604.6 422.0,599.5 422.4,600.0 423.3,607.0 422.8,614.6 422.4,615.1Z M468.8,613.8 466.8,614.1 461.2,613.9 459.2,613.7 457.6,613.2 452.4,610.7 451.1,609.8 450.3,609.0 449.6,607.8 449.4,607.0 449.6,606.2 450.1,605.4 451.0,604.6 456.0,601.6 458.8,600.6 462.0,600.2 465.6,600.3 473.1,601.4 475.7,602.6 478.8,605.0 479.4,605.8 479.6,607.0 479.1,608.2 478.0,609.4 476.0,610.6 472.0,612.2 468.8,613.8Z M468.5,605.0 469.0,604.6 468.6,603.8 468.0,603.4 466.4,603.0 464.0,603.0 463.0,603.4 462.5,603.8 462.4,604.2 463.0,604.6 464.0,604.8 468.5,605.0Z M466.2,610.6 468.8,609.8 469.5,609.4 469.8,609.0 469.7,608.2 468.8,607.7 466.0,607.8 460.8,607.3 459.6,607.6 459.2,608.2 459.2,608.6 459.8,609.4 461.6,610.4 464.0,610.9 466.2,610.6Z M422.8,615.2 422.0,615.4 421.4,615.0 421.3,614.6 421.1,605.4 421.5,598.6 421.6,598.2 422.0,597.9 422.4,597.9 422.8,598.5 423.0,601.4 423.7,607.0 423.1,614.6 422.8,615.2Z M468.8,614.6 466.4,614.8 458.8,614.6 456.0,614.2 455.5,613.8 454.6,612.6 451.2,610.7 449.6,609.4 448.6,608.2 448.1,607.4 448.2,606.2 448.7,605.4 450.2,604.2 455.6,601.2 459.2,600.1 462.8,599.8 466.8,599.9 471.2,600.5 473.6,601.1 476.7,602.6 479.1,604.2 480.3,605.4 480.7,606.2 480.6,607.4 479.8,608.6 479.0,609.4 477.2,610.7 473.3,612.6 471.2,613.9 468.8,614.6Z M464.1,609.4 463.7,609.4 464.1,609.4Z M422.8,615.5 422.4,615.7 421.6,615.5 421.1,615.0 421.0,614.6 420.8,606.6 421.2,598.6 421.5,597.8 422.0,597.5 422.8,597.7 423.1,598.2 423.6,603.4 424.6,607.0 423.8,610.6 423.4,614.6 422.8,615.5Z M467.2,615.4 458.0,615.4 454.4,615.2 450.8,615.4 446.8,615.2 446.3,614.6 446.4,613.9 446.8,613.6 451.2,612.6 451.7,612.2 450.9,611.4 446.6,608.2 446.0,607.4 445.9,606.6 446.9,605.4 448.6,604.2 455.2,600.9 459.2,599.7 463.6,599.3 466.4,599.4 470.4,599.9 474.0,600.7 476.0,601.6 480.5,604.2 481.7,605.0 482.4,605.8 482.5,607.0 481.7,608.2 479.8,609.8 476.7,611.8 475.9,612.6 476.1,613.0 476.8,613.2 479.2,613.7 481.2,613.8 481.6,614.2 481.5,614.6 481.2,614.9 476.8,615.1 472.4,615.1 467.2,615.4Z M481.2,615.8 458.4,616.0 446.8,615.9 446.0,615.6 445.6,615.0 445.5,614.2 445.8,613.4 446.4,612.8 448.6,612.2 449.1,611.8 449.0,611.4 448.6,611.0 447.3,610.2 445.6,609.5 444.4,609.3 438.4,609.4 433.6,608.7 427.2,609.3 424.8,609.9 424.4,610.3 424.0,611.6 423.6,615.0 422.8,615.8 422.0,615.9 421.1,615.4 420.7,614.6 420.4,606.6 420.9,598.2 421.2,597.7 422.0,597.2 422.8,597.4 423.3,597.8 423.5,598.2 423.6,601.0 424.0,603.3 424.4,604.1 425.2,604.5 430.8,604.3 434.4,604.8 437.6,604.5 441.2,604.8 444.8,604.6 446.8,604.0 456.0,600.1 458.0,599.5 460.8,599.1 466.0,599.0 470.8,599.5 473.6,600.1 475.6,600.8 480.0,603.0 483.1,604.2 484.0,604.8 484.6,605.4 484.8,606.2 484.8,607.0 483.9,608.6 482.9,609.4 479.6,611.0 478.6,611.8 478.6,612.2 478.8,612.3 479.5,612.6 481.6,612.8 482.2,613.4 482.5,614.2 482.4,615.0 482.0,615.5 481.2,615.8Z M482.0,616.2 481.2,616.5 446.8,616.5 445.6,616.0 445.0,615.0 444.9,614.2 445.0,613.4 445.9,611.8 445.9,611.4 445.2,611.0 443.6,610.9 438.0,611.2 433.2,610.8 427.6,611.0 425.0,611.4 424.4,612.1 423.9,615.0 423.7,615.4 422.8,616.1 421.6,616.1 421.1,615.8 420.5,615.0 420.1,609.0 420.0,605.8 420.6,598.2 421.1,597.4 421.6,597.0 422.4,596.9 423.3,597.4 423.8,598.2 424.0,601.0 424.3,602.2 424.8,603.0 425.2,603.1 431.2,602.8 434.4,603.1 441.2,602.9 445.2,603.1 450.0,601.8 454.8,599.9 457.2,599.2 459.6,598.8 462.8,598.5 465.2,598.5 468.4,598.8 472.0,599.3 474.8,600.0 480.0,602.1 484.4,603.3 485.7,604.2 486.6,605.4 486.8,607.0 486.2,608.6 485.2,609.8 482.7,611.4 482.5,611.8 483.0,613.4 483.1,614.6 482.8,615.4 482.0,616.2Z M419.6,604.4 420.0,602.4 420.3,598.2 420.8,597.3 422.0,596.7 422.8,596.7 423.7,597.4 424.1,598.2 424.4,601.0 424.8,601.6 425.6,601.8 431.2,601.6 435.2,601.7 441.2,601.5 445.6,601.8 450.0,601.0 455.2,599.3 457.6,598.7 462.0,598.1 465.6,598.0 469.6,598.4 473.6,599.1 479.6,601.1 484.8,602.1 486.4,602.9 487.6,604.1 488.3,605.4 488.6,607.0 488.2,608.6 487.5,609.8 486.4,610.9 484.0,612.5 483.7,614.6 483.2,615.8 482.4,616.6 481.2,617.0 446.8,617.0 446.0,616.8 445.1,616.2 444.4,615.0 444.1,612.6 443.6,612.3 442.8,612.2 438.0,612.6 429.2,612.3 425.2,612.7 424.7,613.0 424.4,613.8 424.2,615.0 423.7,615.8 422.8,616.4 422.0,616.5 420.8,615.9 420.2,615.0 420.0,611.8 419.6,609.8 M419.6,601.9 420.1,597.8 420.8,596.9 422.0,596.4 422.8,596.4 423.7,597.0 424.3,597.8 424.8,600.3 425.6,600.6 431.2,600.4 436.0,600.6 441.2,600.3 446.0,600.6 450.8,599.9 455.2,598.7 458.8,598.0 463.2,597.6 466.4,597.6 472.8,598.4 479.6,600.1 483.6,600.5 486.0,601.2 487.7,602.2 489.1,603.8 489.8,605.4 490.0,607.0 489.6,609.0 488.8,610.6 487.6,611.7 484.8,613.4 483.8,615.8 483.2,616.6 482.4,617.2 481.2,617.5 446.8,617.5 445.6,617.2 444.8,616.6 444.1,615.8 443.2,613.8 442.0,613.5 438.0,613.7 431.6,613.5 425.6,613.8 425.2,613.9 424.8,614.3 424.4,615.4 423.6,616.3 422.8,616.6 422.0,616.7 420.8,616.3 420.1,615.4 419.6,612.2 M419.6,599.6 419.8,597.8 420.3,597.0 421.2,596.3 422.0,596.1 423.2,596.3 424.0,596.8 424.7,597.8 425.0,599.0 425.6,599.4 430.8,599.2 436.0,599.4 441.2,599.2 446.4,599.3 450.9,599.0 457.2,597.7 460.4,597.3 464.4,597.0 467.6,597.2 473.6,597.9 479.2,599.0 483.6,599.4 486.4,600.1 488.4,601.1 490.0,602.6 491.1,604.6 491.3,606.6 491.0,609.0 490.6,610.2 489.8,611.4 488.4,612.7 485.6,614.2 483.9,616.6 483.2,617.3 481.6,618.0 446.8,618.0 445.6,617.7 444.8,617.3 442.8,614.9 441.6,614.6 425.6,614.9 425.2,615.0 424.2,616.2 423.2,616.8 422.0,617.0 421.2,616.8 420.4,616.3 419.7,615.4 419.6,614.7 M419.6,597.6 420.2,596.6 420.8,596.2 421.6,595.8 422.4,595.8 423.2,595.9 424.0,596.4 425.2,597.9 426.0,598.2 430.4,598.1 435.6,598.3 441.6,598.0 449.6,598.1 452.4,597.8 458.8,596.8 464.8,596.4 469.2,596.7 478.2,597.8 483.2,598.1 485.2,598.5 487.2,599.1 488.8,599.9 490.3,601.0 491.4,602.2 492.1,603.4 492.6,605.0 492.7,606.6 492.6,608.2 492.2,609.8 491.3,611.4 490.4,612.6 488.8,613.9 485.6,615.5 483.6,617.6 482.8,618.1 481.6,618.4 446.8,618.5 446.0,618.4 444.8,617.9 442.8,616.1 442.0,615.8 425.6,615.9 424.8,616.2 423.2,617.2 422.4,617.3 421.6,617.3 420.8,617.0 419.6,615.8 M419.6,596.9 420.4,596.0 421.2,595.6 422.4,595.5 423.2,595.6 424.0,596.0 425.2,596.9 426.0,597.1 430.8,597.0 436.0,597.2 442.8,596.9 449.2,597.0 459.6,596.0 465.2,595.8 484.0,597.1 486.4,597.6 488.4,598.4 490.0,599.3 491.6,600.5 492.7,601.8 493.5,603.0 494.1,605.0 494.3,606.6 494.1,608.2 493.5,610.2 492.6,611.8 491.4,613.4 489.6,614.8 486.0,616.4 484.0,618.0 482.0,618.9 446.8,619.0 444.8,618.5 442.8,617.2 441.6,616.9 425.2,616.9 422.8,617.6 422.0,617.7 420.8,617.3 419.6,616.4" fill="none" stroke="#000" stroke-width="0.55" stroke-linejoin="round"/></g>
<line x1="279.4" y1="477" x2="279.4" y2="612.5" stroke="#000" stroke-width="2.2" />
<polygon points="279.4,468.5 275.9,477.5 282.9,477.5" fill="#000"/>
<text transform="translate(285.9,634.2) rotate(-90)" font-size="12" font-weight="bold" text-anchor="middle">CD71</text>
<text x="299.3" y="676.3" font-size="12.2" font-weight="bold" font-style="normal" text-anchor="start" fill="#000" >Annexin V</text>
<line x1="359" y1="672.2" x2="502" y2="672.2" stroke="#000" stroke-width="2.6" />
<polygon points="510,672.2 501,668.7 501,675.7" fill="#000"/>
</svg>
</body></html>
